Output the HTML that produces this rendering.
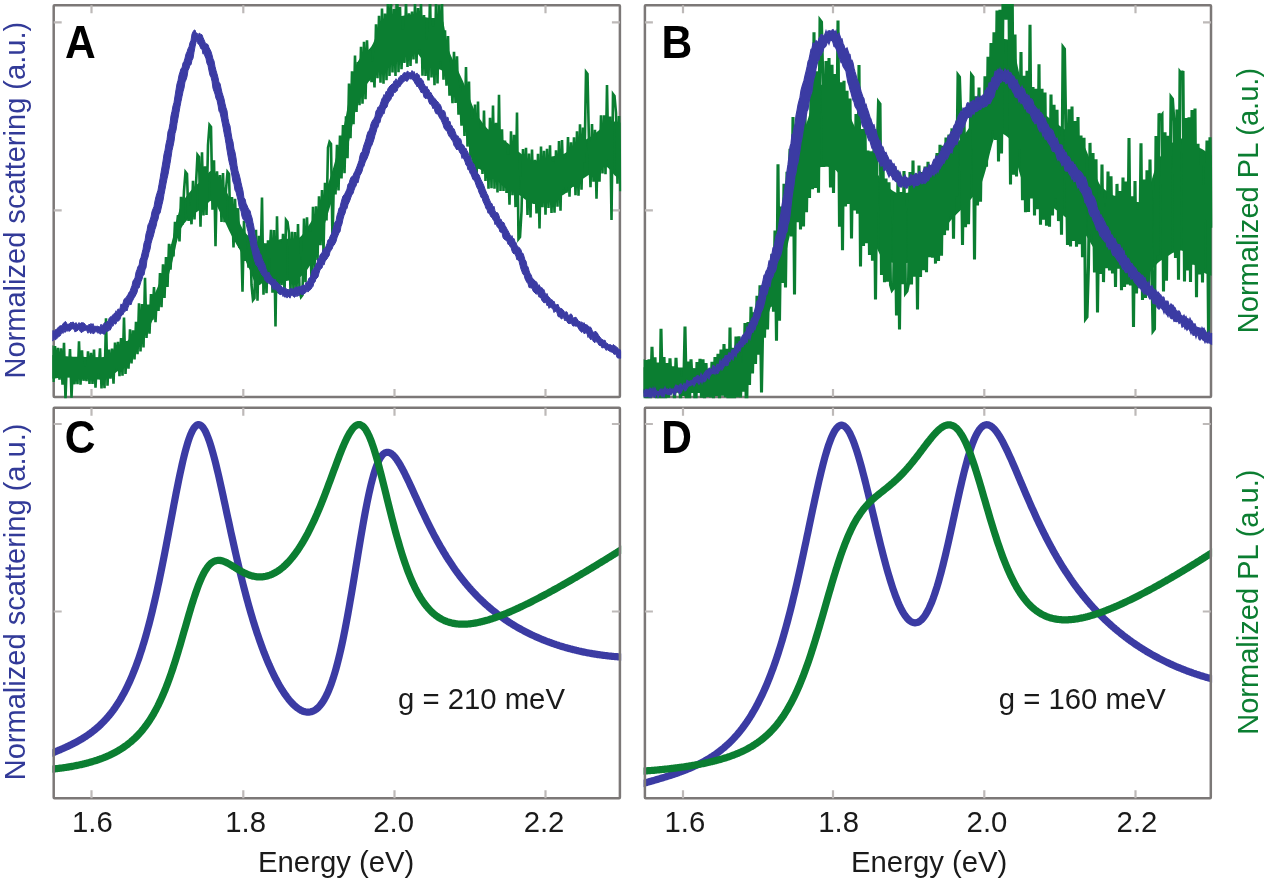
<!DOCTYPE html>
<html><head><meta charset="utf-8"><title>Figure</title>
<style>
html,body{margin:0;padding:0;background:#fff;}
svg{display:block;filter:blur(0.4px);}
text{font-family:"Liberation Sans", sans-serif;}
</style></head>
<body>
<svg width="1265" height="879" viewBox="0 0 1265 879">
<rect x="0" y="0" width="1265" height="879" fill="#fff"/>
<defs><clipPath id="ca"><rect x="52.4" y="3.9" width="568.8" height="394.4"/></clipPath><clipPath id="cb"><rect x="643.6" y="3.9" width="568.7" height="394.4"/></clipPath><clipPath id="cc"><rect x="52.4" y="406.4" width="568.8" height="393.2"/></clipPath><clipPath id="cd"><rect x="643.6" y="406.4" width="568.5" height="393.2"/></clipPath></defs>
<g clip-path="url(#cc)" fill="none" stroke-linecap="round" stroke-linejoin="round">
<path d="M50.0 753.9 L51.0 753.5 L52.0 753.1 L53.0 752.7 L54.0 752.3 L55.0 751.9 L56.0 751.5 L57.0 751.0 L58.0 750.6 L59.0 750.2 L60.0 749.8 L61.0 749.4 L62.0 748.9 L63.0 748.5 L64.0 748.0 L65.0 747.6 L66.0 747.1 L67.0 746.7 L68.0 746.2 L69.0 745.7 L70.0 745.2 L71.0 744.8 L72.0 744.3 L73.0 743.8 L74.0 743.2 L75.0 742.7 L76.0 742.2 L77.0 741.7 L78.0 741.1 L79.0 740.5 L80.0 740.0 L81.0 739.4 L82.0 738.8 L83.0 738.2 L84.0 737.5 L85.0 736.9 L86.0 736.3 L87.0 735.6 L88.0 734.9 L89.0 734.2 L90.0 733.5 L91.0 732.7 L92.0 732.0 L93.0 731.2 L94.0 730.4 L95.0 729.6 L96.0 728.8 L97.0 727.9 L98.0 727.1 L99.0 726.2 L100.0 725.2 L101.0 724.3 L102.0 723.3 L103.0 722.3 L104.0 721.3 L105.0 720.2 L106.0 719.1 L107.0 718.0 L108.0 716.8 L109.0 715.7 L110.0 714.4 L111.0 713.2 L112.0 711.9 L113.0 710.6 L114.0 709.2 L115.0 707.8 L116.0 706.3 L117.0 704.8 L118.0 703.3 L119.0 701.7 L120.0 700.1 L121.0 698.4 L122.0 696.6 L123.0 694.8 L124.0 693.0 L125.0 691.1 L126.0 689.1 L127.0 687.1 L128.0 685.0 L129.0 682.9 L130.0 680.7 L131.0 678.4 L132.0 676.1 L133.0 673.7 L134.0 671.2 L135.0 668.7 L136.0 666.0 L137.0 663.3 L138.0 660.5 L139.0 657.7 L140.0 654.7 L141.0 651.7 L142.0 648.6 L143.0 645.3 L144.0 642.1 L145.0 638.7 L146.0 635.2 L147.0 631.6 L148.0 627.9 L149.0 624.2 L150.0 620.3 L151.0 616.4 L152.0 612.3 L153.0 608.2 L154.0 603.9 L155.0 599.6 L156.0 595.2 L157.0 590.7 L158.0 586.1 L159.0 581.4 L160.0 576.6 L161.0 571.8 L162.0 566.8 L163.0 561.8 L164.0 556.8 L165.0 551.6 L166.0 546.5 L167.0 541.2 L168.0 536.0 L169.0 530.7 L170.0 525.4 L171.0 520.1 L172.0 514.8 L173.0 509.5 L174.0 504.2 L175.0 499.0 L176.0 493.8 L177.0 488.7 L178.0 483.7 L179.0 478.8 L180.0 474.0 L181.0 469.4 L182.0 464.9 L183.0 460.5 L184.0 456.4 L185.0 452.4 L186.0 448.7 L187.0 445.2 L188.0 441.9 L189.0 438.9 L190.0 436.1 L191.0 433.7 L192.0 431.5 L193.0 429.6 L194.0 428.0 L195.0 426.7 L196.0 425.7 L197.0 425.0 L198.0 424.7 L199.0 424.6 L200.0 424.9 L201.0 425.5 L202.0 426.4 L203.0 427.5 L204.0 429.0 L205.0 430.7 L206.0 432.7 L207.0 435.0 L208.0 437.5 L209.0 440.2 L210.0 443.2 L211.0 446.3 L212.0 449.7 L213.0 453.2 L214.0 456.9 L215.0 460.7 L216.0 464.7 L217.0 468.8 L218.0 473.0 L219.0 477.3 L220.0 481.7 L221.0 486.2 L222.0 490.7 L223.0 495.3 L224.0 499.9 L225.0 504.6 L226.0 509.2 L227.0 513.9 L228.0 518.5 L229.0 523.1 L230.0 527.8 L231.0 532.4 L232.0 536.9 L233.0 541.4 L234.0 545.9 L235.0 550.4 L236.0 554.8 L237.0 559.1 L238.0 563.4 L239.0 567.6 L240.0 571.8 L241.0 575.9 L242.0 580.0 L243.0 584.0 L244.0 587.9 L245.0 591.7 L246.0 595.5 L247.0 599.2 L248.0 602.9 L249.0 606.5 L250.0 610.0 L251.0 613.5 L252.0 616.8 L253.0 620.2 L254.0 623.4 L255.0 626.6 L256.0 629.7 L257.0 632.8 L258.0 635.7 L259.0 638.7 L260.0 641.5 L261.0 644.3 L262.0 647.1 L263.0 649.7 L264.0 652.4 L265.0 654.9 L266.0 657.4 L267.0 659.9 L268.0 662.2 L269.0 664.6 L270.0 666.8 L271.0 669.0 L272.0 671.2 L273.0 673.3 L274.0 675.3 L275.0 677.3 L276.0 679.3 L277.0 681.1 L278.0 683.0 L279.0 684.8 L280.0 686.5 L281.0 688.2 L282.0 689.8 L283.0 691.3 L284.0 692.9 L285.0 694.3 L286.0 695.7 L287.0 697.1 L288.0 698.4 L289.0 699.7 L290.0 700.9 L291.0 702.0 L292.0 703.1 L293.0 704.1 L294.0 705.1 L295.0 706.0 L296.0 706.9 L297.0 707.7 L298.0 708.4 L299.0 709.1 L300.0 709.7 L301.0 710.3 L302.0 710.7 L303.0 711.2 L304.0 711.5 L305.0 711.8 L306.0 712.0 L307.0 712.1 L308.0 712.2 L309.0 712.1 L310.0 712.0 L311.0 711.8 L312.0 711.5 L313.0 711.1 L314.0 710.6 L315.0 710.1 L316.0 709.4 L317.0 708.6 L318.0 707.7 L319.0 706.7 L320.0 705.6 L321.0 704.3 L322.0 703.0 L323.0 701.5 L324.0 699.9 L325.0 698.1 L326.0 696.2 L327.0 694.2 L328.0 692.0 L329.0 689.6 L330.0 687.1 L331.0 684.5 L332.0 681.6 L333.0 678.7 L334.0 675.5 L335.0 672.2 L336.0 668.7 L337.0 665.0 L338.0 661.2 L339.0 657.2 L340.0 653.0 L341.0 648.6 L342.0 644.1 L343.0 639.4 L344.0 634.5 L345.0 629.5 L346.0 624.3 L347.0 619.0 L348.0 613.5 L349.0 607.9 L350.0 602.2 L351.0 596.4 L352.0 590.6 L353.0 584.6 L354.0 578.6 L355.0 572.5 L356.0 566.4 L357.0 560.3 L358.0 554.2 L359.0 548.1 L360.0 542.1 L361.0 536.2 L362.0 530.4 L363.0 524.6 L364.0 519.0 L365.0 513.5 L366.0 508.3 L367.0 503.1 L368.0 498.2 L369.0 493.5 L370.0 489.1 L371.0 484.8 L372.0 480.8 L373.0 477.1 L374.0 473.6 L375.0 470.4 L376.0 467.5 L377.0 464.8 L378.0 462.4 L379.0 460.3 L380.0 458.4 L381.0 456.8 L382.0 455.4 L383.0 454.3 L384.0 453.5 L385.0 452.9 L386.0 452.5 L387.0 452.3 L388.0 452.3 L389.0 452.5 L390.0 452.9 L391.0 453.4 L392.0 454.2 L393.0 455.0 L394.0 456.1 L395.0 457.2 L396.0 458.5 L397.0 459.9 L398.0 461.4 L399.0 463.0 L400.0 464.6 L401.0 466.4 L402.0 468.2 L403.0 470.1 L404.0 472.0 L405.0 474.0 L406.0 476.1 L407.0 478.1 L408.0 480.2 L409.0 482.3 L410.0 484.5 L411.0 486.6 L412.0 488.8 L413.0 491.0 L414.0 493.2 L415.0 495.4 L416.0 497.6 L417.0 499.8 L418.0 502.0 L419.0 504.1 L420.0 506.3 L421.0 508.5 L422.0 510.6 L423.0 512.7 L424.0 514.8 L425.0 516.9 L426.0 519.0 L427.0 521.1 L428.0 523.1 L429.0 525.1 L430.0 527.1 L431.0 529.1 L432.0 531.0 L433.0 533.0 L434.0 534.9 L435.0 536.7 L436.0 538.6 L437.0 540.4 L438.0 542.2 L439.0 544.0 L440.0 545.8 L441.0 547.5 L442.0 549.2 L443.0 550.9 L444.0 552.6 L445.0 554.2 L446.0 555.9 L447.0 557.5 L448.0 559.0 L449.0 560.6 L450.0 562.1 L451.0 563.6 L452.0 565.1 L453.0 566.6 L454.0 568.0 L455.0 569.5 L456.0 570.9 L457.0 572.2 L458.0 573.6 L459.0 574.9 L460.0 576.3 L461.0 577.6 L462.0 578.8 L463.0 580.1 L464.0 581.3 L465.0 582.6 L466.0 583.8 L467.0 585.0 L468.0 586.1 L469.0 587.3 L470.0 588.4 L471.0 589.6 L472.0 590.7 L473.0 591.8 L474.0 592.8 L475.0 593.9 L476.0 594.9 L477.0 596.0 L478.0 597.0 L479.0 598.0 L480.0 599.0 L481.0 599.9 L482.0 600.9 L483.0 601.8 L484.0 602.7 L485.0 603.7 L486.0 604.6 L487.0 605.5 L488.0 606.3 L489.0 607.2 L490.0 608.1 L491.0 608.9 L492.0 609.7 L493.0 610.5 L494.0 611.3 L495.0 612.1 L496.0 612.9 L497.0 613.7 L498.0 614.5 L499.0 615.2 L500.0 615.9 L501.0 616.7 L502.0 617.4 L503.0 618.1 L504.0 618.8 L505.0 619.5 L506.0 620.2 L507.0 620.8 L508.0 621.5 L509.0 622.2 L510.0 622.8 L511.0 623.4 L512.0 624.1 L513.0 624.7 L514.0 625.3 L515.0 625.9 L516.0 626.5 L517.0 627.1 L518.0 627.7 L519.0 628.2 L520.0 628.8 L521.0 629.3 L522.0 629.9 L523.0 630.4 L524.0 631.0 L525.0 631.5 L526.0 632.0 L527.0 632.5 L528.0 633.0 L529.0 633.5 L530.0 634.0 L531.0 634.5 L532.0 635.0 L533.0 635.4 L534.0 635.9 L535.0 636.4 L536.0 636.8 L537.0 637.2 L538.0 637.7 L539.0 638.1 L540.0 638.5 L541.0 639.0 L542.0 639.4 L543.0 639.8 L544.0 640.2 L545.0 640.6 L546.0 641.0 L547.0 641.4 L548.0 641.7 L549.0 642.1 L550.0 642.5 L551.0 642.8 L552.0 643.2 L553.0 643.5 L554.0 643.9 L555.0 644.2 L556.0 644.6 L557.0 644.9 L558.0 645.2 L559.0 645.6 L560.0 645.9 L561.0 646.2 L562.0 646.5 L563.0 646.8 L564.0 647.1 L565.0 647.4 L566.0 647.7 L567.0 647.9 L568.0 648.2 L569.0 648.5 L570.0 648.8 L571.0 649.0 L572.0 649.3 L573.0 649.6 L574.0 649.8 L575.0 650.0 L576.0 650.3 L577.0 650.5 L578.0 650.8 L579.0 651.0 L580.0 651.2 L581.0 651.4 L582.0 651.7 L583.0 651.9 L584.0 652.1 L585.0 652.3 L586.0 652.5 L587.0 652.7 L588.0 652.9 L589.0 653.0 L590.0 653.2 L591.0 653.4 L592.0 653.6 L593.0 653.8 L594.0 653.9 L595.0 654.1 L596.0 654.2 L597.0 654.4 L598.0 654.6 L599.0 654.7 L600.0 654.8 L601.0 655.0 L602.0 655.1 L603.0 655.3 L604.0 655.4 L605.0 655.5 L606.0 655.6 L607.0 655.7 L608.0 655.9 L609.0 656.0 L610.0 656.1 L611.0 656.2 L612.0 656.3 L613.0 656.4 L614.0 656.5 L615.0 656.6 L616.0 656.6 L617.0 656.7 L618.0 656.8 L619.0 656.9 L620.0 656.9 L621.0 657.0 L622.0 657.1" stroke="#3b3ba3" stroke-width="7.2"/>
<path d="M50.0 769.3 L51.0 769.2 L52.0 769.1 L53.0 769.0 L54.0 768.9 L55.0 768.8 L56.0 768.7 L57.0 768.6 L58.0 768.5 L59.0 768.3 L60.0 768.2 L61.0 768.1 L62.0 768.0 L63.0 767.8 L64.0 767.7 L65.0 767.5 L66.0 767.4 L67.0 767.2 L68.0 767.1 L69.0 766.9 L70.0 766.7 L71.0 766.6 L72.0 766.4 L73.0 766.2 L74.0 766.0 L75.0 765.8 L76.0 765.6 L77.0 765.4 L78.0 765.2 L79.0 765.0 L80.0 764.8 L81.0 764.6 L82.0 764.4 L83.0 764.1 L84.0 763.9 L85.0 763.6 L86.0 763.4 L87.0 763.1 L88.0 762.9 L89.0 762.6 L90.0 762.3 L91.0 762.0 L92.0 761.7 L93.0 761.4 L94.0 761.1 L95.0 760.8 L96.0 760.5 L97.0 760.2 L98.0 759.8 L99.0 759.5 L100.0 759.1 L101.0 758.7 L102.0 758.4 L103.0 758.0 L104.0 757.6 L105.0 757.2 L106.0 756.8 L107.0 756.3 L108.0 755.9 L109.0 755.5 L110.0 755.0 L111.0 754.5 L112.0 754.0 L113.0 753.5 L114.0 753.0 L115.0 752.5 L116.0 752.0 L117.0 751.4 L118.0 750.8 L119.0 750.2 L120.0 749.6 L121.0 749.0 L122.0 748.4 L123.0 747.7 L124.0 747.0 L125.0 746.3 L126.0 745.6 L127.0 744.9 L128.0 744.1 L129.0 743.3 L130.0 742.5 L131.0 741.7 L132.0 740.8 L133.0 739.9 L134.0 739.0 L135.0 738.1 L136.0 737.1 L137.0 736.1 L138.0 735.1 L139.0 734.0 L140.0 732.9 L141.0 731.8 L142.0 730.6 L143.0 729.4 L144.0 728.1 L145.0 726.8 L146.0 725.5 L147.0 724.1 L148.0 722.7 L149.0 721.2 L150.0 719.7 L151.0 718.1 L152.0 716.5 L153.0 714.8 L154.0 713.1 L155.0 711.3 L156.0 709.5 L157.0 707.5 L158.0 705.6 L159.0 703.5 L160.0 701.4 L161.0 699.3 L162.0 697.1 L163.0 694.8 L164.0 692.4 L165.0 690.0 L166.0 687.5 L167.0 684.9 L168.0 682.2 L169.0 679.5 L170.0 676.7 L171.0 673.9 L172.0 671.0 L173.0 668.0 L174.0 664.9 L175.0 661.8 L176.0 658.6 L177.0 655.4 L178.0 652.1 L179.0 648.8 L180.0 645.4 L181.0 642.0 L182.0 638.6 L183.0 635.1 L184.0 631.6 L185.0 628.2 L186.0 624.7 L187.0 621.2 L188.0 617.8 L189.0 614.3 L190.0 611.0 L191.0 607.6 L192.0 604.3 L193.0 601.1 L194.0 598.0 L195.0 595.0 L196.0 592.0 L197.0 589.2 L198.0 586.4 L199.0 583.8 L200.0 581.4 L201.0 579.0 L202.0 576.8 L203.0 574.7 L204.0 572.8 L205.0 571.0 L206.0 569.4 L207.0 567.9 L208.0 566.5 L209.0 565.3 L210.0 564.3 L211.0 563.3 L212.0 562.6 L213.0 561.9 L214.0 561.4 L215.0 561.0 L216.0 560.7 L217.0 560.5 L218.0 560.4 L219.0 560.4 L220.0 560.4 L221.0 560.6 L222.0 560.8 L223.0 561.1 L224.0 561.5 L225.0 561.9 L226.0 562.3 L227.0 562.8 L228.0 563.4 L229.0 563.9 L230.0 564.5 L231.0 565.1 L232.0 565.7 L233.0 566.3 L234.0 566.9 L235.0 567.6 L236.0 568.2 L237.0 568.8 L238.0 569.4 L239.0 570.0 L240.0 570.6 L241.0 571.2 L242.0 571.7 L243.0 572.2 L244.0 572.8 L245.0 573.2 L246.0 573.7 L247.0 574.1 L248.0 574.5 L249.0 574.9 L250.0 575.3 L251.0 575.6 L252.0 575.9 L253.0 576.1 L254.0 576.3 L255.0 576.5 L256.0 576.7 L257.0 576.8 L258.0 576.9 L259.0 576.9 L260.0 576.9 L261.0 576.9 L262.0 576.8 L263.0 576.8 L264.0 576.6 L265.0 576.5 L266.0 576.3 L267.0 576.0 L268.0 575.7 L269.0 575.4 L270.0 575.1 L271.0 574.7 L272.0 574.3 L273.0 573.8 L274.0 573.3 L275.0 572.8 L276.0 572.2 L277.0 571.6 L278.0 571.0 L279.0 570.3 L280.0 569.6 L281.0 568.8 L282.0 568.0 L283.0 567.2 L284.0 566.3 L285.0 565.4 L286.0 564.4 L287.0 563.4 L288.0 562.4 L289.0 561.3 L290.0 560.2 L291.0 559.0 L292.0 557.8 L293.0 556.6 L294.0 555.3 L295.0 554.0 L296.0 552.6 L297.0 551.2 L298.0 549.8 L299.0 548.3 L300.0 546.7 L301.0 545.1 L302.0 543.5 L303.0 541.9 L304.0 540.1 L305.0 538.4 L306.0 536.6 L307.0 534.7 L308.0 532.9 L309.0 530.9 L310.0 528.9 L311.0 526.9 L312.0 524.8 L313.0 522.7 L314.0 520.6 L315.0 518.4 L316.0 516.1 L317.0 513.9 L318.0 511.5 L319.0 509.2 L320.0 506.8 L321.0 504.3 L322.0 501.8 L323.0 499.3 L324.0 496.8 L325.0 494.2 L326.0 491.6 L327.0 489.0 L328.0 486.3 L329.0 483.6 L330.0 480.9 L331.0 478.2 L332.0 475.5 L333.0 472.8 L334.0 470.1 L335.0 467.4 L336.0 464.7 L337.0 462.0 L338.0 459.4 L339.0 456.7 L340.0 454.2 L341.0 451.6 L342.0 449.2 L343.0 446.7 L344.0 444.4 L345.0 442.1 L346.0 440.0 L347.0 437.9 L348.0 436.0 L349.0 434.1 L350.0 432.4 L351.0 430.9 L352.0 429.4 L353.0 428.2 L354.0 427.1 L355.0 426.2 L356.0 425.5 L357.0 425.0 L358.0 424.7 L359.0 424.6 L360.0 424.7 L361.0 425.1 L362.0 425.6 L363.0 426.4 L364.0 427.4 L365.0 428.6 L366.0 430.1 L367.0 431.8 L368.0 433.7 L369.0 435.8 L370.0 438.1 L371.0 440.6 L372.0 443.3 L373.0 446.2 L374.0 449.2 L375.0 452.4 L376.0 455.8 L377.0 459.2 L378.0 462.8 L379.0 466.5 L380.0 470.3 L381.0 474.2 L382.0 478.1 L383.0 482.1 L384.0 486.1 L385.0 490.1 L386.0 494.2 L387.0 498.3 L388.0 502.3 L389.0 506.4 L390.0 510.4 L391.0 514.4 L392.0 518.3 L393.0 522.2 L394.0 526.0 L395.0 529.8 L396.0 533.5 L397.0 537.1 L398.0 540.6 L399.0 544.1 L400.0 547.5 L401.0 550.8 L402.0 554.0 L403.0 557.1 L404.0 560.1 L405.0 563.1 L406.0 565.9 L407.0 568.7 L408.0 571.4 L409.0 574.0 L410.0 576.5 L411.0 578.9 L412.0 581.2 L413.0 583.4 L414.0 585.6 L415.0 587.7 L416.0 589.7 L417.0 591.6 L418.0 593.4 L419.0 595.2 L420.0 596.9 L421.0 598.5 L422.0 600.0 L423.0 601.5 L424.0 602.9 L425.0 604.3 L426.0 605.6 L427.0 606.8 L428.0 608.0 L429.0 609.1 L430.0 610.2 L431.0 611.2 L432.0 612.2 L433.0 613.1 L434.0 614.0 L435.0 614.8 L436.0 615.6 L437.0 616.3 L438.0 617.0 L439.0 617.7 L440.0 618.3 L441.0 618.8 L442.0 619.4 L443.0 619.9 L444.0 620.4 L445.0 620.8 L446.0 621.2 L447.0 621.6 L448.0 621.9 L449.0 622.2 L450.0 622.5 L451.0 622.8 L452.0 623.0 L453.0 623.3 L454.0 623.4 L455.0 623.6 L456.0 623.8 L457.0 623.9 L458.0 624.0 L459.0 624.1 L460.0 624.1 L461.0 624.2 L462.0 624.2 L463.0 624.2 L464.0 624.2 L465.0 624.2 L466.0 624.1 L467.0 624.1 L468.0 624.0 L469.0 623.9 L470.0 623.8 L471.0 623.7 L472.0 623.5 L473.0 623.4 L474.0 623.2 L475.0 623.1 L476.0 622.9 L477.0 622.7 L478.0 622.5 L479.0 622.3 L480.0 622.1 L481.0 621.8 L482.0 621.6 L483.0 621.3 L484.0 621.1 L485.0 620.8 L486.0 620.5 L487.0 620.2 L488.0 620.0 L489.0 619.7 L490.0 619.3 L491.0 619.0 L492.0 618.7 L493.0 618.4 L494.0 618.0 L495.0 617.7 L496.0 617.3 L497.0 617.0 L498.0 616.6 L499.0 616.2 L500.0 615.9 L501.0 615.5 L502.0 615.1 L503.0 614.7 L504.0 614.3 L505.0 613.9 L506.0 613.5 L507.0 613.1 L508.0 612.7 L509.0 612.2 L510.0 611.8 L511.0 611.4 L512.0 610.9 L513.0 610.5 L514.0 610.0 L515.0 609.6 L516.0 609.1 L517.0 608.7 L518.0 608.2 L519.0 607.8 L520.0 607.3 L521.0 606.8 L522.0 606.4 L523.0 605.9 L524.0 605.4 L525.0 604.9 L526.0 604.4 L527.0 603.9 L528.0 603.5 L529.0 603.0 L530.0 602.5 L531.0 602.0 L532.0 601.5 L533.0 600.9 L534.0 600.4 L535.0 599.9 L536.0 599.4 L537.0 598.9 L538.0 598.4 L539.0 597.9 L540.0 597.3 L541.0 596.8 L542.0 596.3 L543.0 595.8 L544.0 595.2 L545.0 594.7 L546.0 594.1 L547.0 593.6 L548.0 593.1 L549.0 592.5 L550.0 592.0 L551.0 591.4 L552.0 590.9 L553.0 590.3 L554.0 589.8 L555.0 589.2 L556.0 588.7 L557.0 588.1 L558.0 587.6 L559.0 587.0 L560.0 586.4 L561.0 585.9 L562.0 585.3 L563.0 584.8 L564.0 584.2 L565.0 583.6 L566.0 583.0 L567.0 582.5 L568.0 581.9 L569.0 581.3 L570.0 580.8 L571.0 580.2 L572.0 579.6 L573.0 579.0 L574.0 578.4 L575.0 577.9 L576.0 577.3 L577.0 576.7 L578.0 576.1 L579.0 575.5 L580.0 574.9 L581.0 574.3 L582.0 573.7 L583.0 573.1 L584.0 572.6 L585.0 572.0 L586.0 571.4 L587.0 570.8 L588.0 570.2 L589.0 569.6 L590.0 569.0 L591.0 568.4 L592.0 567.8 L593.0 567.2 L594.0 566.6 L595.0 566.0 L596.0 565.4 L597.0 564.8 L598.0 564.1 L599.0 563.5 L600.0 562.9 L601.0 562.3 L602.0 561.7 L603.0 561.1 L604.0 560.5 L605.0 559.9 L606.0 559.3 L607.0 558.6 L608.0 558.0 L609.0 557.4 L610.0 556.8 L611.0 556.2 L612.0 555.6 L613.0 554.9 L614.0 554.3 L615.0 553.7 L616.0 553.1 L617.0 552.4 L618.0 551.8 L619.0 551.2 L620.0 550.6 L621.0 549.9 L622.0 549.3" stroke="#0b7e31" stroke-width="7.2"/>
</g>
<g clip-path="url(#cd)" fill="none" stroke-linecap="round" stroke-linejoin="round">
<path d="M641.0 784.1 L642.0 783.8 L643.0 783.5 L644.0 783.2 L645.0 782.9 L646.0 782.6 L647.0 782.4 L648.0 782.1 L649.0 781.8 L650.0 781.5 L651.0 781.2 L652.0 780.9 L653.0 780.7 L654.0 780.4 L655.0 780.1 L656.0 779.8 L657.0 779.5 L658.0 779.2 L659.0 778.9 L660.0 778.6 L661.0 778.3 L662.0 778.0 L663.0 777.7 L664.0 777.4 L665.0 777.1 L666.0 776.8 L667.0 776.5 L668.0 776.1 L669.0 775.8 L670.0 775.5 L671.0 775.2 L672.0 774.9 L673.0 774.5 L674.0 774.2 L675.0 773.8 L676.0 773.5 L677.0 773.2 L678.0 772.8 L679.0 772.4 L680.0 772.1 L681.0 771.7 L682.0 771.3 L683.0 771.0 L684.0 770.6 L685.0 770.2 L686.0 769.8 L687.0 769.4 L688.0 769.0 L689.0 768.6 L690.0 768.2 L691.0 767.7 L692.0 767.3 L693.0 766.8 L694.0 766.4 L695.0 765.9 L696.0 765.5 L697.0 765.0 L698.0 764.5 L699.0 764.0 L700.0 763.5 L701.0 763.0 L702.0 762.5 L703.0 761.9 L704.0 761.4 L705.0 760.8 L706.0 760.3 L707.0 759.7 L708.0 759.1 L709.0 758.5 L710.0 757.9 L711.0 757.2 L712.0 756.6 L713.0 756.0 L714.0 755.3 L715.0 754.6 L716.0 753.9 L717.0 753.2 L718.0 752.4 L719.0 751.7 L720.0 750.9 L721.0 750.1 L722.0 749.3 L723.0 748.5 L724.0 747.7 L725.0 746.8 L726.0 745.9 L727.0 745.0 L728.0 744.1 L729.0 743.2 L730.0 742.2 L731.0 741.2 L732.0 740.2 L733.0 739.2 L734.0 738.1 L735.0 737.0 L736.0 735.9 L737.0 734.8 L738.0 733.6 L739.0 732.4 L740.0 731.2 L741.0 729.9 L742.0 728.7 L743.0 727.3 L744.0 726.0 L745.0 724.6 L746.0 723.2 L747.0 721.7 L748.0 720.3 L749.0 718.7 L750.0 717.2 L751.0 715.6 L752.0 713.9 L753.0 712.2 L754.0 710.5 L755.0 708.7 L756.0 706.9 L757.0 705.1 L758.0 703.2 L759.0 701.2 L760.0 699.2 L761.0 697.2 L762.0 695.1 L763.0 693.0 L764.0 690.8 L765.0 688.5 L766.0 686.2 L767.0 683.8 L768.0 681.4 L769.0 678.9 L770.0 676.4 L771.0 673.8 L772.0 671.1 L773.0 668.4 L774.0 665.6 L775.0 662.8 L776.0 659.9 L777.0 656.9 L778.0 653.8 L779.0 650.7 L780.0 647.5 L781.0 644.3 L782.0 640.9 L783.0 637.5 L784.0 634.1 L785.0 630.5 L786.0 626.9 L787.0 623.2 L788.0 619.5 L789.0 615.7 L790.0 611.8 L791.0 607.8 L792.0 603.8 L793.0 599.7 L794.0 595.5 L795.0 591.3 L796.0 587.0 L797.0 582.7 L798.0 578.2 L799.0 573.8 L800.0 569.3 L801.0 564.7 L802.0 560.1 L803.0 555.5 L804.0 550.8 L805.0 546.1 L806.0 541.4 L807.0 536.6 L808.0 531.9 L809.0 527.1 L810.0 522.3 L811.0 517.6 L812.0 512.8 L813.0 508.1 L814.0 503.4 L815.0 498.8 L816.0 494.2 L817.0 489.7 L818.0 485.2 L819.0 480.8 L820.0 476.6 L821.0 472.4 L822.0 468.3 L823.0 464.4 L824.0 460.6 L825.0 456.9 L826.0 453.4 L827.0 450.1 L828.0 446.9 L829.0 443.9 L830.0 441.2 L831.0 438.6 L832.0 436.2 L833.0 434.1 L834.0 432.1 L835.0 430.4 L836.0 429.0 L837.0 427.7 L838.0 426.7 L839.0 426.0 L840.0 425.5 L841.0 425.2 L842.0 425.2 L843.0 425.5 L844.0 425.9 L845.0 426.7 L846.0 427.6 L847.0 428.8 L848.0 430.2 L849.0 431.8 L850.0 433.6 L851.0 435.7 L852.0 437.9 L853.0 440.3 L854.0 442.9 L855.0 445.7 L856.0 448.6 L857.0 451.7 L858.0 454.9 L859.0 458.3 L860.0 461.7 L861.0 465.3 L862.0 469.0 L863.0 472.8 L864.0 476.6 L865.0 480.5 L866.0 484.5 L867.0 488.6 L868.0 492.7 L869.0 496.8 L870.0 500.9 L871.0 505.1 L872.0 509.3 L873.0 513.5 L874.0 517.7 L875.0 521.9 L876.0 526.1 L877.0 530.2 L878.0 534.3 L879.0 538.4 L880.0 542.5 L881.0 546.5 L882.0 550.4 L883.0 554.3 L884.0 558.1 L885.0 561.9 L886.0 565.6 L887.0 569.2 L888.0 572.7 L889.0 576.1 L890.0 579.4 L891.0 582.6 L892.0 585.8 L893.0 588.8 L894.0 591.7 L895.0 594.5 L896.0 597.2 L897.0 599.7 L898.0 602.2 L899.0 604.5 L900.0 606.6 L901.0 608.7 L902.0 610.6 L903.0 612.3 L904.0 614.0 L905.0 615.5 L906.0 616.8 L907.0 618.1 L908.0 619.1 L909.0 620.1 L910.0 620.9 L911.0 621.6 L912.0 622.1 L913.0 622.5 L914.0 622.7 L915.0 622.8 L916.0 622.7 L917.0 622.5 L918.0 622.2 L919.0 621.7 L920.0 621.0 L921.0 620.2 L922.0 619.3 L923.0 618.2 L924.0 616.9 L925.0 615.5 L926.0 613.9 L927.0 612.2 L928.0 610.3 L929.0 608.3 L930.0 606.1 L931.0 603.8 L932.0 601.3 L933.0 598.7 L934.0 595.9 L935.0 593.0 L936.0 589.9 L937.0 586.8 L938.0 583.4 L939.0 580.0 L940.0 576.4 L941.0 572.7 L942.0 568.9 L943.0 565.0 L944.0 560.9 L945.0 556.8 L946.0 552.6 L947.0 548.3 L948.0 544.0 L949.0 539.5 L950.0 535.0 L951.0 530.5 L952.0 525.9 L953.0 521.3 L954.0 516.7 L955.0 512.1 L956.0 507.5 L957.0 502.9 L958.0 498.4 L959.0 493.9 L960.0 489.4 L961.0 485.1 L962.0 480.8 L963.0 476.6 L964.0 472.5 L965.0 468.6 L966.0 464.8 L967.0 461.1 L968.0 457.5 L969.0 454.2 L970.0 450.9 L971.0 447.9 L972.0 445.0 L973.0 442.3 L974.0 439.8 L975.0 437.5 L976.0 435.4 L977.0 433.5 L978.0 431.7 L979.0 430.2 L980.0 428.8 L981.0 427.7 L982.0 426.7 L983.0 426.0 L984.0 425.4 L985.0 425.0 L986.0 424.8 L987.0 424.7 L988.0 424.9 L989.0 425.1 L990.0 425.6 L991.0 426.2 L992.0 426.9 L993.0 427.7 L994.0 428.7 L995.0 429.8 L996.0 431.1 L997.0 432.4 L998.0 433.8 L999.0 435.4 L1000.0 437.0 L1001.0 438.7 L1002.0 440.5 L1003.0 442.3 L1004.0 444.3 L1005.0 446.3 L1006.0 448.3 L1007.0 450.4 L1008.0 452.5 L1009.0 454.7 L1010.0 456.9 L1011.0 459.1 L1012.0 461.4 L1013.0 463.7 L1014.0 466.0 L1015.0 468.3 L1016.0 470.7 L1017.0 473.0 L1018.0 475.4 L1019.0 477.7 L1020.0 480.1 L1021.0 482.5 L1022.0 484.8 L1023.0 487.2 L1024.0 489.5 L1025.0 491.9 L1026.0 494.2 L1027.0 496.5 L1028.0 498.8 L1029.0 501.1 L1030.0 503.4 L1031.0 505.7 L1032.0 507.9 L1033.0 510.1 L1034.0 512.3 L1035.0 514.5 L1036.0 516.7 L1037.0 518.9 L1038.0 521.0 L1039.0 523.1 L1040.0 525.2 L1041.0 527.3 L1042.0 529.3 L1043.0 531.3 L1044.0 533.4 L1045.0 535.3 L1046.0 537.3 L1047.0 539.2 L1048.0 541.2 L1049.0 543.1 L1050.0 544.9 L1051.0 546.8 L1052.0 548.6 L1053.0 550.4 L1054.0 552.2 L1055.0 554.0 L1056.0 555.7 L1057.0 557.5 L1058.0 559.2 L1059.0 560.9 L1060.0 562.5 L1061.0 564.2 L1062.0 565.8 L1063.0 567.4 L1064.0 569.0 L1065.0 570.5 L1066.0 572.1 L1067.0 573.6 L1068.0 575.1 L1069.0 576.6 L1070.0 578.1 L1071.0 579.5 L1072.0 581.0 L1073.0 582.4 L1074.0 583.8 L1075.0 585.2 L1076.0 586.5 L1077.0 587.9 L1078.0 589.2 L1079.0 590.5 L1080.0 591.8 L1081.0 593.1 L1082.0 594.4 L1083.0 595.6 L1084.0 596.8 L1085.0 598.1 L1086.0 599.3 L1087.0 600.5 L1088.0 601.6 L1089.0 602.8 L1090.0 604.0 L1091.0 605.1 L1092.0 606.2 L1093.0 607.3 L1094.0 608.4 L1095.0 609.5 L1096.0 610.6 L1097.0 611.6 L1098.0 612.7 L1099.0 613.7 L1100.0 614.7 L1101.0 615.7 L1102.0 616.7 L1103.0 617.7 L1104.0 618.7 L1105.0 619.7 L1106.0 620.6 L1107.0 621.5 L1108.0 622.5 L1109.0 623.4 L1110.0 624.3 L1111.0 625.2 L1112.0 626.1 L1113.0 627.0 L1114.0 627.8 L1115.0 628.7 L1116.0 629.5 L1117.0 630.4 L1118.0 631.2 L1119.0 632.0 L1120.0 632.8 L1121.0 633.6 L1122.0 634.4 L1123.0 635.2 L1124.0 636.0 L1125.0 636.8 L1126.0 637.5 L1127.0 638.3 L1128.0 639.0 L1129.0 639.7 L1130.0 640.5 L1131.0 641.2 L1132.0 641.9 L1133.0 642.6 L1134.0 643.3 L1135.0 644.0 L1136.0 644.7 L1137.0 645.3 L1138.0 646.0 L1139.0 646.6 L1140.0 647.3 L1141.0 647.9 L1142.0 648.6 L1143.0 649.2 L1144.0 649.8 L1145.0 650.4 L1146.0 651.0 L1147.0 651.7 L1148.0 652.2 L1149.0 652.8 L1150.0 653.4 L1151.0 654.0 L1152.0 654.6 L1153.0 655.1 L1154.0 655.7 L1155.0 656.2 L1156.0 656.8 L1157.0 657.3 L1158.0 657.8 L1159.0 658.4 L1160.0 658.9 L1161.0 659.4 L1162.0 659.9 L1163.0 660.4 L1164.0 660.9 L1165.0 661.4 L1166.0 661.9 L1167.0 662.4 L1168.0 662.8 L1169.0 663.3 L1170.0 663.8 L1171.0 664.2 L1172.0 664.7 L1173.0 665.1 L1174.0 665.6 L1175.0 666.0 L1176.0 666.5 L1177.0 666.9 L1178.0 667.3 L1179.0 667.7 L1180.0 668.1 L1181.0 668.5 L1182.0 668.9 L1183.0 669.3 L1184.0 669.7 L1185.0 670.1 L1186.0 670.5 L1187.0 670.9 L1188.0 671.3 L1189.0 671.6 L1190.0 672.0 L1191.0 672.3 L1192.0 672.7 L1193.0 673.1 L1194.0 673.4 L1195.0 673.7 L1196.0 674.1 L1197.0 674.4 L1198.0 674.7 L1199.0 675.0 L1200.0 675.4 L1201.0 675.7 L1202.0 676.0 L1203.0 676.3 L1204.0 676.6 L1205.0 676.9 L1206.0 677.2 L1207.0 677.5 L1208.0 677.7 L1209.0 678.0 L1210.0 678.3 L1211.0 678.6 L1212.0 678.8 L1213.0 679.1" stroke="#3b3ba3" stroke-width="7.2"/>
<path d="M641.0 771.2 L642.0 771.2 L643.0 771.1 L644.0 771.0 L645.0 771.0 L646.0 770.9 L647.0 770.8 L648.0 770.7 L649.0 770.7 L650.0 770.6 L651.0 770.5 L652.0 770.4 L653.0 770.3 L654.0 770.3 L655.0 770.2 L656.0 770.1 L657.0 770.0 L658.0 769.9 L659.0 769.8 L660.0 769.7 L661.0 769.6 L662.0 769.5 L663.0 769.4 L664.0 769.3 L665.0 769.2 L666.0 769.1 L667.0 769.0 L668.0 768.9 L669.0 768.8 L670.0 768.7 L671.0 768.6 L672.0 768.4 L673.0 768.3 L674.0 768.2 L675.0 768.1 L676.0 767.9 L677.0 767.8 L678.0 767.7 L679.0 767.6 L680.0 767.4 L681.0 767.3 L682.0 767.1 L683.0 767.0 L684.0 766.9 L685.0 766.7 L686.0 766.6 L687.0 766.4 L688.0 766.3 L689.0 766.1 L690.0 765.9 L691.0 765.8 L692.0 765.6 L693.0 765.4 L694.0 765.3 L695.0 765.1 L696.0 764.9 L697.0 764.7 L698.0 764.5 L699.0 764.4 L700.0 764.2 L701.0 764.0 L702.0 763.8 L703.0 763.6 L704.0 763.4 L705.0 763.2 L706.0 762.9 L707.0 762.7 L708.0 762.5 L709.0 762.3 L710.0 762.0 L711.0 761.8 L712.0 761.6 L713.0 761.3 L714.0 761.1 L715.0 760.8 L716.0 760.6 L717.0 760.3 L718.0 760.0 L719.0 759.8 L720.0 759.5 L721.0 759.2 L722.0 758.9 L723.0 758.6 L724.0 758.3 L725.0 758.0 L726.0 757.7 L727.0 757.4 L728.0 757.0 L729.0 756.7 L730.0 756.4 L731.0 756.0 L732.0 755.6 L733.0 755.3 L734.0 754.9 L735.0 754.5 L736.0 754.1 L737.0 753.7 L738.0 753.3 L739.0 752.9 L740.0 752.4 L741.0 752.0 L742.0 751.5 L743.0 751.1 L744.0 750.6 L745.0 750.1 L746.0 749.6 L747.0 749.1 L748.0 748.5 L749.0 748.0 L750.0 747.4 L751.0 746.9 L752.0 746.3 L753.0 745.7 L754.0 745.0 L755.0 744.4 L756.0 743.7 L757.0 743.1 L758.0 742.4 L759.0 741.6 L760.0 740.9 L761.0 740.2 L762.0 739.4 L763.0 738.6 L764.0 737.7 L765.0 736.9 L766.0 736.0 L767.0 735.1 L768.0 734.2 L769.0 733.2 L770.0 732.3 L771.0 731.2 L772.0 730.2 L773.0 729.1 L774.0 728.0 L775.0 726.9 L776.0 725.7 L777.0 724.5 L778.0 723.2 L779.0 721.9 L780.0 720.6 L781.0 719.2 L782.0 717.8 L783.0 716.4 L784.0 714.9 L785.0 713.3 L786.0 711.7 L787.0 710.1 L788.0 708.4 L789.0 706.6 L790.0 704.8 L791.0 703.0 L792.0 701.1 L793.0 699.1 L794.0 697.1 L795.0 695.1 L796.0 692.9 L797.0 690.7 L798.0 688.5 L799.0 686.2 L800.0 683.8 L801.0 681.4 L802.0 678.9 L803.0 676.4 L804.0 673.7 L805.0 671.1 L806.0 668.3 L807.0 665.5 L808.0 662.7 L809.0 659.8 L810.0 656.8 L811.0 653.8 L812.0 650.7 L813.0 647.6 L814.0 644.4 L815.0 641.2 L816.0 637.9 L817.0 634.6 L818.0 631.3 L819.0 627.9 L820.0 624.5 L821.0 621.1 L822.0 617.7 L823.0 614.2 L824.0 610.7 L825.0 607.2 L826.0 603.7 L827.0 600.3 L828.0 596.8 L829.0 593.3 L830.0 589.9 L831.0 586.5 L832.0 583.1 L833.0 579.7 L834.0 576.4 L835.0 573.2 L836.0 569.9 L837.0 566.8 L838.0 563.7 L839.0 560.6 L840.0 557.6 L841.0 554.7 L842.0 551.9 L843.0 549.1 L844.0 546.4 L845.0 543.8 L846.0 541.3 L847.0 538.8 L848.0 536.4 L849.0 534.1 L850.0 531.9 L851.0 529.8 L852.0 527.7 L853.0 525.7 L854.0 523.8 L855.0 522.0 L856.0 520.2 L857.0 518.5 L858.0 516.9 L859.0 515.4 L860.0 513.9 L861.0 512.5 L862.0 511.1 L863.0 509.8 L864.0 508.5 L865.0 507.3 L866.0 506.2 L867.0 505.1 L868.0 504.0 L869.0 502.9 L870.0 501.9 L871.0 501.0 L872.0 500.0 L873.0 499.1 L874.0 498.2 L875.0 497.4 L876.0 496.5 L877.0 495.7 L878.0 494.9 L879.0 494.1 L880.0 493.3 L881.0 492.5 L882.0 491.7 L883.0 490.9 L884.0 490.1 L885.0 489.3 L886.0 488.5 L887.0 487.7 L888.0 486.9 L889.0 486.1 L890.0 485.2 L891.0 484.4 L892.0 483.5 L893.0 482.7 L894.0 481.8 L895.0 480.9 L896.0 480.0 L897.0 479.0 L898.0 478.1 L899.0 477.1 L900.0 476.1 L901.0 475.1 L902.0 474.1 L903.0 473.1 L904.0 472.0 L905.0 470.9 L906.0 469.8 L907.0 468.7 L908.0 467.6 L909.0 466.4 L910.0 465.2 L911.0 464.0 L912.0 462.8 L913.0 461.6 L914.0 460.3 L915.0 459.0 L916.0 457.8 L917.0 456.5 L918.0 455.2 L919.0 453.9 L920.0 452.5 L921.0 451.2 L922.0 449.9 L923.0 448.6 L924.0 447.2 L925.0 445.9 L926.0 444.6 L927.0 443.3 L928.0 442.0 L929.0 440.7 L930.0 439.5 L931.0 438.2 L932.0 437.0 L933.0 435.8 L934.0 434.7 L935.0 433.6 L936.0 432.5 L937.0 431.5 L938.0 430.5 L939.0 429.6 L940.0 428.8 L941.0 428.0 L942.0 427.3 L943.0 426.7 L944.0 426.1 L945.0 425.7 L946.0 425.3 L947.0 425.1 L948.0 424.9 L949.0 424.9 L950.0 424.9 L951.0 425.1 L952.0 425.4 L953.0 425.8 L954.0 426.3 L955.0 427.0 L956.0 427.8 L957.0 428.7 L958.0 429.8 L959.0 431.0 L960.0 432.4 L961.0 433.9 L962.0 435.5 L963.0 437.2 L964.0 439.1 L965.0 441.1 L966.0 443.3 L967.0 445.5 L968.0 447.9 L969.0 450.4 L970.0 453.0 L971.0 455.7 L972.0 458.6 L973.0 461.5 L974.0 464.5 L975.0 467.5 L976.0 470.7 L977.0 473.9 L978.0 477.1 L979.0 480.4 L980.0 483.8 L981.0 487.1 L982.0 490.5 L983.0 494.0 L984.0 497.4 L985.0 500.8 L986.0 504.3 L987.0 507.7 L988.0 511.1 L989.0 514.5 L990.0 517.9 L991.0 521.2 L992.0 524.5 L993.0 527.7 L994.0 531.0 L995.0 534.1 L996.0 537.2 L997.0 540.3 L998.0 543.3 L999.0 546.2 L1000.0 549.1 L1001.0 551.9 L1002.0 554.7 L1003.0 557.4 L1004.0 560.0 L1005.0 562.5 L1006.0 565.0 L1007.0 567.4 L1008.0 569.8 L1009.0 572.0 L1010.0 574.2 L1011.0 576.4 L1012.0 578.4 L1013.0 580.4 L1014.0 582.4 L1015.0 584.3 L1016.0 586.1 L1017.0 587.8 L1018.0 589.5 L1019.0 591.1 L1020.0 592.7 L1021.0 594.2 L1022.0 595.6 L1023.0 597.0 L1024.0 598.3 L1025.0 599.6 L1026.0 600.9 L1027.0 602.0 L1028.0 603.2 L1029.0 604.2 L1030.0 605.3 L1031.0 606.2 L1032.0 607.2 L1033.0 608.1 L1034.0 608.9 L1035.0 609.7 L1036.0 610.5 L1037.0 611.2 L1038.0 611.9 L1039.0 612.6 L1040.0 613.2 L1041.0 613.8 L1042.0 614.4 L1043.0 614.9 L1044.0 615.4 L1045.0 615.8 L1046.0 616.3 L1047.0 616.7 L1048.0 617.0 L1049.0 617.4 L1050.0 617.7 L1051.0 618.0 L1052.0 618.3 L1053.0 618.5 L1054.0 618.7 L1055.0 618.9 L1056.0 619.1 L1057.0 619.3 L1058.0 619.4 L1059.0 619.5 L1060.0 619.6 L1061.0 619.7 L1062.0 619.8 L1063.0 619.8 L1064.0 619.8 L1065.0 619.9 L1066.0 619.9 L1067.0 619.8 L1068.0 619.8 L1069.0 619.7 L1070.0 619.7 L1071.0 619.6 L1072.0 619.5 L1073.0 619.4 L1074.0 619.3 L1075.0 619.1 L1076.0 619.0 L1077.0 618.9 L1078.0 618.7 L1079.0 618.5 L1080.0 618.3 L1081.0 618.1 L1082.0 617.9 L1083.0 617.7 L1084.0 617.5 L1085.0 617.2 L1086.0 617.0 L1087.0 616.7 L1088.0 616.5 L1089.0 616.2 L1090.0 615.9 L1091.0 615.6 L1092.0 615.3 L1093.0 615.0 L1094.0 614.7 L1095.0 614.4 L1096.0 614.1 L1097.0 613.8 L1098.0 613.4 L1099.0 613.1 L1100.0 612.7 L1101.0 612.4 L1102.0 612.0 L1103.0 611.7 L1104.0 611.3 L1105.0 610.9 L1106.0 610.5 L1107.0 610.1 L1108.0 609.7 L1109.0 609.3 L1110.0 608.9 L1111.0 608.5 L1112.0 608.1 L1113.0 607.7 L1114.0 607.3 L1115.0 606.8 L1116.0 606.4 L1117.0 606.0 L1118.0 605.5 L1119.0 605.1 L1120.0 604.6 L1121.0 604.2 L1122.0 603.7 L1123.0 603.3 L1124.0 602.8 L1125.0 602.3 L1126.0 601.9 L1127.0 601.4 L1128.0 600.9 L1129.0 600.4 L1130.0 600.0 L1131.0 599.5 L1132.0 599.0 L1133.0 598.5 L1134.0 598.0 L1135.0 597.5 L1136.0 597.0 L1137.0 596.5 L1138.0 596.0 L1139.0 595.5 L1140.0 595.0 L1141.0 594.4 L1142.0 593.9 L1143.0 593.4 L1144.0 592.9 L1145.0 592.4 L1146.0 591.8 L1147.0 591.3 L1148.0 590.8 L1149.0 590.2 L1150.0 589.7 L1151.0 589.1 L1152.0 588.6 L1153.0 588.1 L1154.0 587.5 L1155.0 587.0 L1156.0 586.4 L1157.0 585.9 L1158.0 585.3 L1159.0 584.7 L1160.0 584.2 L1161.0 583.6 L1162.0 583.1 L1163.0 582.5 L1164.0 581.9 L1165.0 581.4 L1166.0 580.8 L1167.0 580.2 L1168.0 579.6 L1169.0 579.1 L1170.0 578.5 L1171.0 577.9 L1172.0 577.3 L1173.0 576.7 L1174.0 576.1 L1175.0 575.6 L1176.0 575.0 L1177.0 574.4 L1178.0 573.8 L1179.0 573.2 L1180.0 572.6 L1181.0 572.0 L1182.0 571.4 L1183.0 570.8 L1184.0 570.2 L1185.0 569.6 L1186.0 569.0 L1187.0 568.4 L1188.0 567.8 L1189.0 567.2 L1190.0 566.5 L1191.0 565.9 L1192.0 565.3 L1193.0 564.7 L1194.0 564.1 L1195.0 563.5 L1196.0 562.9 L1197.0 562.2 L1198.0 561.6 L1199.0 561.0 L1200.0 560.4 L1201.0 559.7 L1202.0 559.1 L1203.0 558.5 L1204.0 557.8 L1205.0 557.2 L1206.0 556.6 L1207.0 555.9 L1208.0 555.3 L1209.0 554.7 L1210.0 554.0 L1211.0 553.4 L1212.0 552.8 L1213.0 552.1" stroke="#0b7e31" stroke-width="7.2"/>
</g>
<rect x="53.7" y="407.7" width="566.2" height="390.6" fill="none" stroke="#7c7877" stroke-width="2.5" rx="0.8"/>
<path d="M91.5 407.7 v8 M91.5 798.3 v-8" stroke="#bdb9b8" stroke-width="2.2"/>
<path d="M243.3 407.7 v8 M243.3 798.3 v-8" stroke="#bdb9b8" stroke-width="2.2"/>
<path d="M394.5 407.7 v8 M394.5 798.3 v-8" stroke="#bdb9b8" stroke-width="2.2"/>
<path d="M545.5 407.7 v8 M545.5 798.3 v-8" stroke="#bdb9b8" stroke-width="2.2"/>
<path d="M53.7 424.0 h8 M619.9 424.0 h-8" stroke="#bdb9b8" stroke-width="2.2"/>
<path d="M53.7 611.5 h8 M619.9 611.5 h-8" stroke="#bdb9b8" stroke-width="2.2"/>
<rect x="644.9" y="407.7" width="565.9" height="390.6" fill="none" stroke="#7c7877" stroke-width="2.5" rx="0.8"/>
<path d="M683.0 407.7 v8 M683.0 798.3 v-8" stroke="#bdb9b8" stroke-width="2.2"/>
<path d="M833.0 407.7 v8 M833.0 798.3 v-8" stroke="#bdb9b8" stroke-width="2.2"/>
<path d="M984.3 407.7 v8 M984.3 798.3 v-8" stroke="#bdb9b8" stroke-width="2.2"/>
<path d="M1135.5 407.7 v8 M1135.5 798.3 v-8" stroke="#bdb9b8" stroke-width="2.2"/>
<path d="M644.9 424.0 h8 M1210.8 424.0 h-8" stroke="#bdb9b8" stroke-width="2.2"/>
<path d="M644.9 611.5 h8 M1210.8 611.5 h-8" stroke="#bdb9b8" stroke-width="2.2"/>
<rect x="53.7" y="5.2" width="566.2" height="391.8" fill="none" stroke="#7c7877" stroke-width="2.5" rx="0.8"/>
<path d="M91.5 5.2 v8 M91.5 397.0 v-8" stroke="#bdb9b8" stroke-width="2.2"/>
<path d="M243.3 5.2 v8 M243.3 397.0 v-8" stroke="#bdb9b8" stroke-width="2.2"/>
<path d="M394.5 5.2 v8 M394.5 397.0 v-8" stroke="#bdb9b8" stroke-width="2.2"/>
<path d="M545.5 5.2 v8 M545.5 397.0 v-8" stroke="#bdb9b8" stroke-width="2.2"/>
<path d="M53.7 22.3 h8 M619.9 22.3 h-8" stroke="#bdb9b8" stroke-width="2.2"/>
<path d="M53.7 210.4 h8 M619.9 210.4 h-8" stroke="#bdb9b8" stroke-width="2.2"/>
<rect x="644.9" y="5.2" width="566.1" height="391.8" fill="none" stroke="#7c7877" stroke-width="2.5" rx="0.8"/>
<path d="M683.0 5.2 v8 M683.0 397.0 v-8" stroke="#bdb9b8" stroke-width="2.2"/>
<path d="M833.0 5.2 v8 M833.0 397.0 v-8" stroke="#bdb9b8" stroke-width="2.2"/>
<path d="M984.3 5.2 v8 M984.3 397.0 v-8" stroke="#bdb9b8" stroke-width="2.2"/>
<path d="M1135.5 5.2 v8 M1135.5 397.0 v-8" stroke="#bdb9b8" stroke-width="2.2"/>
<path d="M644.9 22.3 h8 M1211.0 22.3 h-8" stroke="#bdb9b8" stroke-width="2.2"/>
<path d="M644.9 210.4 h8 M1211.0 210.4 h-8" stroke="#bdb9b8" stroke-width="2.2"/>
<g clip-path="url(#ca)" fill="none">
<path d="M52.0 355.0 L53.5 355.2 L55.0 355.3 L56.5 355.5 L58.0 355.6 L59.5 355.7 L61.0 355.9 L62.5 356.0 L64.0 356.1 L65.5 356.2 L67.0 356.3 L68.5 356.4 L70.0 356.5 L71.5 356.6 L73.0 356.7 L74.5 356.7 L76.0 356.7 L77.5 356.8 L79.0 356.8 L80.5 356.8 L82.0 356.8 L83.5 356.8 L85.0 356.9 L86.5 356.9 L88.0 357.0 L89.5 357.0 L91.0 357.1 L92.5 357.1 L94.0 357.2 L95.5 357.2 L97.0 357.3 L98.5 357.3 L100.0 357.3 L101.5 357.3 L103.0 357.1 L104.5 356.8 L106.0 356.3 L107.5 355.6 L109.0 354.8 L110.5 353.9 L112.0 353.0 L113.5 351.9 L115.0 350.8 L116.5 349.7 L118.0 348.5 L119.5 347.4 L121.0 346.3 L122.5 345.2 L124.0 343.9 L125.5 342.6 L127.0 341.2 L128.5 339.7 L130.0 338.1 L131.5 336.4 L133.0 334.7 L134.5 332.8 L136.0 330.8 L137.5 328.5 L139.0 326.0 L140.5 323.4 L142.0 320.6 L143.5 317.7 L145.0 314.6 L146.5 311.5 L148.0 308.4 L149.5 305.2 L151.0 302.0 L152.5 298.8 L154.0 295.5 L155.5 292.1 L157.0 288.6 L158.5 285.0 L160.0 281.2 L161.5 277.2 L163.0 273.0 L164.5 268.6 L166.0 263.7 L167.5 258.3 L169.0 252.6 L170.5 246.9 L172.0 241.1 L173.5 235.0 L175.0 228.3 L176.5 221.5 L178.0 215.1 L179.5 209.6 L181.0 205.5 L182.5 202.4 L184.0 199.8 L185.5 197.4 L187.0 195.4 L188.5 193.5 L190.0 191.7 L191.5 190.0 L193.0 188.3 L194.5 186.7 L196.0 185.3 L197.5 183.9 L199.0 182.6 L200.5 181.3 L202.0 179.9 L203.5 178.6 L205.0 177.0 L206.5 175.2 L208.0 173.3 L209.5 171.7 L211.0 170.7 L212.5 170.5 L214.0 171.4 L215.5 173.1 L217.0 175.3 L218.5 177.9 L220.0 180.4 L221.5 182.8 L223.0 185.2 L224.5 187.8 L226.0 190.5 L227.5 193.4 L229.0 196.4 L230.5 199.4 L232.0 202.5 L233.5 206.0 L235.0 209.9 L236.5 214.1 L238.0 218.3 L239.5 222.3 L241.0 225.8 L242.5 228.6 L244.0 230.7 L245.5 232.7 L247.0 234.4 L248.5 236.0 L250.0 237.4 L251.5 238.6 L253.0 239.9 L254.5 241.0 L256.0 241.9 L257.5 242.4 L259.0 242.6 L260.5 242.9 L262.0 243.0 L263.5 243.1 L265.0 243.2 L266.5 243.2 L268.0 243.3 L269.5 243.1 L271.0 242.8 L272.5 242.3 L274.0 241.7 L275.5 241.1 L277.0 240.4 L278.5 239.8 L280.0 239.3 L281.5 239.0 L283.0 238.9 L284.5 238.9 L286.0 238.8 L287.5 238.8 L289.0 238.8 L290.5 238.7 L292.0 238.6 L293.5 238.5 L295.0 238.5 L296.5 238.4 L298.0 238.1 L299.5 237.4 L301.0 236.2 L302.5 234.5 L304.0 232.6 L305.5 230.4 L307.0 228.1 L308.5 225.7 L310.0 223.4 L311.5 221.1 L313.0 218.6 L314.5 215.9 L316.0 212.8 L317.5 209.6 L319.0 206.3 L320.5 202.8 L322.0 199.4 L323.5 195.8 L325.0 192.0 L326.5 188.0 L328.0 183.9 L329.5 179.6 L331.0 175.1 L332.5 170.3 L334.0 165.1 L335.5 159.6 L337.0 154.0 L338.5 148.3 L340.0 142.3 L341.5 136.2 L343.0 129.8 L344.5 123.0 L346.0 115.6 L347.5 107.3 L349.0 98.6 L350.5 90.1 L352.0 82.5 L353.5 75.5 L355.0 69.1 L356.5 64.2 L358.0 61.3 L359.5 59.0 L361.0 57.1 L362.5 55.4 L364.0 53.9 L365.5 52.6 L367.0 51.2 L368.5 49.8 L370.0 48.2 L371.5 46.3 L373.0 43.5 L374.5 40.0 L376.0 36.0 L377.5 31.7 L379.0 27.6 L380.5 23.8 L382.0 20.7 L383.5 18.6 L385.0 17.7 L386.5 17.5 L388.0 17.4 L389.5 17.2 L391.0 17.0 L392.5 16.9 L394.0 16.7 L395.5 16.6 L397.0 16.4 L398.5 16.2 L400.0 16.1 L401.5 15.9 L403.0 15.7 L404.5 15.4 L406.0 15.2 L407.5 15.0 L409.0 14.8 L410.5 14.6 L412.0 14.5 L413.5 14.4 L415.0 14.5 L416.5 14.7 L418.0 15.0 L419.5 15.4 L421.0 15.9 L422.5 16.4 L424.0 16.8 L425.5 17.2 L427.0 17.5 L428.5 17.7 L430.0 17.9 L431.5 17.9 L433.0 18.0 L434.5 18.1 L436.0 18.2 L437.5 18.2 L439.0 18.3 L440.5 18.4 L442.0 18.6 L443.5 22.4 L445.0 30.9 L446.5 40.6 L448.0 47.7 L449.5 52.0 L451.0 55.7 L452.5 58.9 L454.0 62.0 L455.5 65.1 L457.0 68.3 L458.5 71.5 L460.0 74.7 L461.5 77.9 L463.0 81.3 L464.5 84.8 L466.0 88.6 L467.5 92.6 L469.0 96.6 L470.5 100.6 L472.0 104.5 L473.5 108.0 L475.0 111.2 L476.5 114.0 L478.0 116.3 L479.5 118.5 L481.0 120.6 L482.5 122.7 L484.0 124.7 L485.5 126.6 L487.0 128.3 L488.5 129.9 L490.0 131.2 L491.5 132.4 L493.0 133.5 L494.5 134.5 L496.0 135.5 L497.5 136.5 L499.0 137.4 L500.5 138.3 L502.0 139.2 L503.5 140.2 L505.0 141.1 L506.5 142.2 L508.0 143.3 L509.5 144.5 L511.0 145.8 L512.5 147.0 L514.0 148.3 L515.5 149.5 L517.0 150.6 L518.5 151.7 L520.0 152.8 L521.5 153.9 L523.0 155.1 L524.5 156.3 L526.0 157.4 L527.5 158.5 L529.0 159.5 L530.5 160.2 L532.0 160.8 L533.5 161.0 L535.0 161.0 L536.5 160.8 L538.0 160.4 L539.5 160.0 L541.0 159.4 L542.5 158.9 L544.0 158.3 L545.5 157.8 L547.0 157.3 L548.5 157.0 L550.0 156.7 L551.5 156.4 L553.0 156.2 L554.5 156.0 L556.0 155.8 L557.5 155.5 L559.0 155.2 L560.5 154.9 L562.0 154.5 L563.5 154.0 L565.0 153.2 L566.5 152.2 L568.0 151.1 L569.5 149.9 L571.0 148.7 L572.5 147.5 L574.0 146.4 L575.5 145.3 L577.0 144.4 L578.5 143.5 L580.0 142.6 L581.5 141.8 L583.0 141.0 L584.5 140.2 L586.0 139.4 L587.5 138.5 L589.0 137.7 L590.5 136.8 L592.0 135.8 L593.5 134.7 L595.0 133.5 L596.5 132.3 L598.0 131.0 L599.5 129.7 L601.0 128.5 L602.5 127.3 L604.0 126.2 L605.5 125.2 L607.0 124.3 L608.5 123.4 L610.0 122.6 L611.5 122.0 L613.0 121.6 L614.5 121.4 L616.0 121.5 L617.5 121.8 L619.0 122.2 L620.5 122.8 L620.5 179.2 L619.0 178.4 L617.5 177.5 L616.0 176.5 L614.5 175.3 L613.0 173.6 L611.5 171.7 L610.0 169.8 L608.5 168.2 L607.0 167.0 L605.5 166.5 L604.0 166.7 L602.5 167.1 L601.0 167.7 L599.5 168.4 L598.0 169.3 L596.5 170.2 L595.0 171.1 L593.5 172.1 L592.0 173.0 L590.5 173.8 L589.0 174.7 L587.5 175.7 L586.0 176.7 L584.5 177.7 L583.0 178.8 L581.5 179.9 L580.0 181.0 L578.5 182.1 L577.0 183.3 L575.5 184.4 L574.0 185.7 L572.5 187.0 L571.0 188.4 L569.5 189.8 L568.0 191.2 L566.5 192.5 L565.0 193.7 L563.5 194.7 L562.0 195.5 L560.5 196.1 L559.0 196.7 L557.5 197.2 L556.0 197.7 L554.5 198.1 L553.0 198.6 L551.5 199.0 L550.0 199.4 L548.5 199.8 L547.0 200.3 L545.5 200.8 L544.0 201.3 L542.5 201.9 L541.0 202.5 L539.5 203.0 L538.0 203.4 L536.5 203.7 L535.0 203.9 L533.5 203.9 L532.0 203.6 L530.5 203.0 L529.0 202.2 L527.5 201.2 L526.0 200.1 L524.5 198.9 L523.0 197.7 L521.5 196.5 L520.0 195.5 L518.5 194.7 L517.0 193.9 L515.5 193.2 L514.0 192.5 L512.5 191.8 L511.0 191.1 L509.5 190.3 L508.0 189.6 L506.5 188.7 L505.0 187.9 L503.5 186.8 L502.0 185.5 L500.5 184.0 L499.0 182.4 L497.5 180.8 L496.0 179.2 L494.5 177.7 L493.0 176.4 L491.5 175.2 L490.0 174.4 L488.5 173.6 L487.0 172.9 L485.5 172.2 L484.0 171.5 L482.5 170.8 L481.0 170.0 L479.5 169.1 L478.0 168.0 L476.5 166.7 L475.0 164.0 L473.5 159.8 L472.0 154.5 L470.5 148.4 L469.0 141.9 L467.5 135.2 L466.0 128.7 L464.5 122.8 L463.0 117.7 L461.5 113.3 L460.0 108.9 L458.5 104.8 L457.0 101.1 L455.5 97.7 L454.0 94.6 L452.5 91.4 L451.0 88.3 L449.5 85.3 L448.0 82.3 L446.5 78.9 L445.0 75.2 L443.5 72.1 L442.0 70.4 L440.5 69.8 L439.0 69.3 L437.5 68.9 L436.0 68.5 L434.5 68.2 L433.0 67.9 L431.5 67.5 L430.0 67.1 L428.5 66.5 L427.0 65.7 L425.5 64.3 L424.0 62.5 L422.5 60.3 L421.0 58.1 L419.5 56.0 L418.0 54.1 L416.5 52.6 L415.0 51.7 L413.5 51.6 L412.0 51.8 L410.5 52.4 L409.0 53.1 L407.5 54.0 L406.0 55.0 L404.5 56.1 L403.0 57.1 L401.5 58.1 L400.0 58.9 L398.5 59.7 L397.0 60.5 L395.5 61.2 L394.0 61.9 L392.5 62.7 L391.0 63.4 L389.5 64.1 L388.0 64.9 L386.5 65.6 L385.0 66.3 L383.5 67.2 L382.0 68.2 L380.5 69.4 L379.0 70.8 L377.5 72.3 L376.0 73.8 L374.5 75.4 L373.0 77.0 L371.5 78.5 L370.0 80.1 L368.5 81.9 L367.0 84.1 L365.5 86.6 L364.0 89.4 L362.5 92.5 L361.0 95.8 L359.5 99.4 L358.0 103.3 L356.5 107.4 L355.0 112.9 L353.5 119.7 L352.0 126.9 L350.5 134.4 L349.0 141.7 L347.5 148.4 L346.0 154.6 L344.5 160.4 L343.0 166.0 L341.5 171.3 L340.0 176.4 L338.5 181.3 L337.0 185.9 L335.5 190.4 L334.0 194.9 L332.5 199.3 L331.0 203.9 L329.5 208.6 L328.0 213.5 L326.5 218.3 L325.0 223.2 L323.5 228.0 L322.0 232.6 L320.5 237.3 L319.0 242.3 L317.5 247.2 L316.0 252.0 L314.5 256.4 L313.0 260.2 L311.5 263.3 L310.0 265.6 L308.5 267.8 L307.0 269.9 L305.5 271.8 L304.0 273.6 L302.5 275.1 L301.0 276.4 L299.5 277.5 L298.0 278.3 L296.5 278.8 L295.0 279.2 L293.5 279.6 L292.0 280.0 L290.5 280.3 L289.0 280.6 L287.5 280.8 L286.0 281.0 L284.5 281.1 L283.0 281.1 L281.5 281.1 L280.0 281.0 L278.5 280.8 L277.0 280.6 L275.5 280.4 L274.0 280.2 L272.5 280.0 L271.0 279.9 L269.5 279.8 L268.0 279.7 L266.5 280.1 L265.0 280.9 L263.5 282.0 L262.0 283.2 L260.5 284.4 L259.0 285.3 L257.5 285.7 L256.0 285.1 L254.5 282.5 L253.0 278.6 L251.5 274.4 L250.0 270.6 L248.5 267.4 L247.0 264.0 L245.5 260.6 L244.0 257.5 L242.5 254.7 L241.0 252.1 L239.5 249.5 L238.0 247.0 L236.5 244.4 L235.0 241.8 L233.5 239.2 L232.0 236.5 L230.5 233.6 L229.0 230.5 L227.5 227.2 L226.0 224.0 L224.5 220.8 L223.0 217.7 L221.5 214.9 L220.0 212.2 L218.5 209.2 L217.0 206.3 L215.5 203.6 L214.0 201.6 L212.5 200.6 L211.0 200.7 L209.5 201.6 L208.0 203.0 L206.5 204.5 L205.0 206.0 L203.5 207.3 L202.0 208.4 L200.5 209.4 L199.0 210.4 L197.5 211.4 L196.0 212.4 L194.5 213.5 L193.0 214.8 L191.5 216.1 L190.0 217.4 L188.5 218.8 L187.0 220.3 L185.5 221.9 L184.0 223.8 L182.5 226.0 L181.0 228.5 L179.5 232.2 L178.0 237.4 L176.5 243.6 L175.0 250.2 L173.5 256.8 L172.0 262.9 L170.5 268.6 L169.0 274.3 L167.5 280.0 L166.0 285.4 L164.5 290.4 L163.0 294.8 L161.5 299.0 L160.0 302.9 L158.5 306.7 L157.0 310.4 L155.5 313.9 L154.0 317.2 L152.5 320.5 L151.0 323.8 L149.5 326.9 L148.0 330.1 L146.5 333.2 L145.0 336.3 L143.5 339.4 L142.0 342.3 L140.5 345.1 L139.0 347.7 L137.5 350.2 L136.0 352.5 L134.5 354.5 L133.0 356.5 L131.5 358.4 L130.0 360.1 L128.5 361.8 L127.0 363.4 L125.5 364.9 L124.0 366.3 L122.5 367.5 L121.0 368.7 L119.5 369.8 L118.0 371.0 L116.5 372.1 L115.0 373.2 L113.5 374.3 L112.0 375.4 L110.5 376.4 L109.0 377.2 L107.5 378.0 L106.0 378.7 L104.5 379.2 L103.0 379.5 L101.5 379.7 L100.0 379.7 L98.5 379.6 L97.0 379.5 L95.5 379.3 L94.0 379.2 L92.5 378.9 L91.0 378.7 L89.5 378.5 L88.0 378.2 L86.5 378.0 L85.0 377.8 L83.5 377.6 L82.0 377.4 L80.5 377.3 L79.0 377.3 L77.5 377.2 L76.0 377.2 L74.5 377.3 L73.0 377.3 L71.5 377.3 L70.0 377.4 L68.5 377.4 L67.0 377.5 L65.5 377.5 L64.0 377.6 L62.5 377.7 L61.0 377.8 L59.5 378.0 L58.0 378.1 L56.5 378.3 L55.0 378.4 L53.5 378.6 L52.0 378.8 Z" fill="#0b7e31"/>
<path d="M52.0 345.4 L53.5 381.9 L55.0 346.1 L56.5 371.1 L58.0 347.8 L59.5 379.6 L61.0 348.2 L62.5 384.8 L64.0 342.9 L65.5 399.3 L67.0 357.0 L68.5 377.1 L70.0 349.0 L71.5 397.7 L73.0 358.6 L74.5 384.3 L76.0 357.9 L77.5 384.2 L79.0 341.3 L80.5 384.6 L82.0 350.3 L83.5 380.8 L85.0 366.9 L86.5 381.2 L88.0 351.3 L89.5 383.9 L91.0 352.7 L92.5 383.9 L94.0 349.5 L95.5 387.8 L97.0 357.5 L98.5 372.8 L100.0 348.4 L101.5 388.5 L103.0 358.9 L104.5 388.3 L106.0 318.4 L107.5 385.8 L109.0 349.5 L110.5 378.7 L112.0 348.6 L113.5 383.6 L115.0 342.6 L116.5 367.8 L118.0 341.9 L119.5 376.1 L121.0 338.1 L122.5 375.8 L124.0 317.5 L125.5 373.9 L127.0 341.1 L128.5 368.6 L130.0 329.3 L131.5 363.5 L133.0 330.3 L134.5 359.4 L136.0 321.8 L137.5 354.2 L139.0 303.3 L140.5 351.4 L142.0 304.1 L143.5 347.4 L145.0 277.8 L146.5 337.9 L148.0 304.5 L149.5 333.7 L151.0 294.1 L152.5 319.7 L154.0 287.1 L155.5 322.1 L157.0 292.8 L158.5 310.9 L160.0 273.1 L161.5 307.2 L163.0 264.4 L164.5 298.0 L166.0 257.1 L167.5 286.9 L169.0 243.9 L170.5 269.6 L172.0 244.1 L173.5 256.4 L175.0 221.8 L176.5 228.9 L178.0 215.1 L179.5 241.5 L181.0 196.9 L182.5 224.6 L184.0 190.9 L185.5 172.0 L187.0 174.0 L188.5 220.9 L190.0 205.3 L191.5 224.3 L193.0 180.7 L194.5 219.4 L196.0 183.8 L197.5 155.0 L199.0 157.0 L200.5 226.7 L202.0 152.3 L203.5 215.4 L205.0 166.3 L206.5 215.0 L208.0 145.1 L209.5 125.0 L211.0 127.0 L212.5 209.8 L214.0 160.3 L215.5 246.2 L217.0 171.2 L218.5 201.5 L220.0 175.1 L221.5 221.9 L223.0 173.1 L224.5 222.1 L226.0 189.7 L227.5 172.0 L229.0 174.0 L230.5 229.3 L232.0 197.1 L233.5 247.4 L235.0 198.7 L236.5 233.6 L238.0 208.2 L239.5 248.0 L241.0 231.8 L242.5 291.7 L244.0 220.7 L245.5 260.8 L247.0 249.4 L248.5 267.6 L250.0 225.2 L251.5 285.0 L253.0 300.0 L254.5 298.0 L256.0 229.7 L257.5 300.6 L259.0 235.9 L260.5 268.3 L262.0 197.6 L263.5 294.8 L265.0 248.8 L266.5 293.2 L268.0 240.3 L269.5 258.3 L271.0 229.8 L272.5 292.6 L274.0 230.1 L275.5 326.4 L277.0 216.2 L278.5 293.3 L280.0 241.4 L281.5 285.1 L283.0 233.7 L284.5 294.7 L286.0 220.0 L287.5 222.0 L289.0 233.2 L290.5 291.1 L292.0 231.7 L293.5 291.7 L295.0 232.1 L296.5 291.9 L298.0 224.1 L299.5 290.1 L301.0 297.0 L302.5 295.0 L304.0 218.6 L305.5 282.1 L307.0 217.4 L308.5 260.6 L310.0 231.7 L311.5 277.6 L313.0 206.8 L314.5 268.8 L316.0 206.4 L317.5 260.2 L319.0 196.2 L320.5 245.3 L322.0 190.0 L323.5 252.0 L325.0 182.8 L326.5 220.4 L328.0 147.6 L329.5 142.0 L331.0 144.0 L332.5 241.6 L334.0 174.2 L335.5 194.4 L337.0 144.7 L338.5 190.5 L340.0 135.6 L341.5 178.5 L343.0 125.0 L344.5 173.1 L346.0 116.4 L347.5 158.1 L349.0 83.5 L350.5 138.2 L352.0 71.2 L353.5 124.2 L355.0 55.5 L356.5 111.9 L358.0 62.0 L359.5 105.3 L361.0 46.8 L362.5 103.6 L364.0 41.8 L365.5 99.2 L367.0 40.3 L368.5 80.8 L370.0 50.9 L371.5 82.2 L373.0 61.4 L374.5 87.5 L376.0 24.4 L377.5 78.3 L379.0 15.8 L380.5 82.8 L382.0 8.5 L383.5 83.6 L385.0 13.6 L386.5 80.2 L388.0 -4.9 L389.5 76.0 L391.0 2.1 L392.5 72.5 L394.0 9.0 L395.5 76.0 L397.0 -23.4 L398.5 72.2 L400.0 7.0 L401.5 69.1 L403.0 29.7 L404.5 62.9 L406.0 1.5 L407.5 66.9 L409.0 13.4 L410.5 66.0 L412.0 11.6 L413.5 59.4 L415.0 3.2 L416.5 63.5 L418.0 8.0 L419.5 49.5 L421.0 3.1 L422.5 75.7 L424.0 15.1 L425.5 76.0 L427.0 39.7 L428.5 80.5 L430.0 -6.4 L431.5 77.4 L433.0 26.2 L434.5 85.2 L436.0 2.1 L437.5 83.4 L439.0 4.7 L440.5 61.4 L442.0 1.8 L443.5 79.6 L445.0 30.4 L446.5 85.8 L448.0 36.1 L449.5 95.7 L451.0 71.4 L452.5 103.1 L454.0 51.8 L455.5 103.0 L457.0 56.3 L458.5 114.6 L460.0 88.0 L461.5 125.6 L463.0 86.5 L464.5 135.9 L466.0 67.0 L467.5 146.6 L469.0 81.5 L470.5 160.1 L472.0 118.4 L473.5 165.0 L475.0 104.5 L476.5 181.8 L478.0 101.5 L479.5 168.9 L481.0 128.9 L482.5 174.0 L484.0 110.6 L485.5 181.0 L487.0 129.3 L488.5 188.8 L490.0 117.9 L491.5 188.3 L493.0 105.4 L494.5 188.7 L496.0 122.7 L497.5 192.5 L499.0 94.8 L500.5 190.9 L502.0 129.2 L503.5 190.9 L505.0 140.6 L506.5 192.9 L508.0 154.7 L509.5 204.7 L511.0 131.3 L512.5 195.3 L514.0 134.7 L515.5 207.1 L517.0 112.5 L518.5 239.0 L520.0 237.0 L521.5 211.5 L523.0 149.0 L524.5 196.4 L526.0 147.7 L527.5 214.9 L529.0 153.6 L530.5 217.4 L532.0 149.5 L533.5 200.1 L535.0 159.8 L536.5 213.5 L538.0 153.9 L539.5 228.4 L541.0 146.5 L542.5 207.1 L544.0 150.9 L545.5 214.8 L547.0 148.7 L548.5 207.9 L550.0 145.2 L551.5 212.9 L553.0 161.9 L554.5 212.6 L556.0 150.2 L557.5 206.8 L559.0 141.0 L560.5 210.7 L562.0 140.1 L563.5 189.3 L565.0 158.2 L566.5 192.8 L568.0 137.1 L569.5 196.8 L571.0 142.4 L572.5 187.0 L574.0 137.3 L575.5 195.1 L577.0 131.4 L578.5 195.8 L580.0 124.2 L581.5 189.8 L583.0 127.5 L584.5 162.4 L586.0 72.0 L587.5 74.0 L589.0 143.6 L590.5 187.2 L592.0 124.0 L593.5 181.8 L595.0 129.8 L596.5 198.7 L598.0 133.9 L599.5 181.7 L601.0 115.4 L602.5 173.4 L604.0 115.3 L605.5 174.2 L607.0 85.0 L608.5 166.5 L610.0 116.5 L611.5 220.1 L613.0 94.0 L614.5 96.0 L616.0 113.0 L617.5 183.8 L619.0 116.1 L620.5 191.2" stroke="#0b7e31" stroke-width="2.6"/>
<path d="M52.0 333.0 L53.0 330.2 L54.0 332.0 L55.0 330.2 L56.0 329.3 L57.0 329.2 L58.0 327.5 L59.0 326.5 L60.0 325.9 L61.0 325.7 L62.0 325.8 L63.0 323.5 L64.0 323.0 L65.0 321.6 L66.0 321.9 L67.0 324.3 L68.0 324.3 L69.0 324.1 L70.0 323.4 L71.0 322.0 L72.0 323.5 L73.0 321.8 L74.0 323.0 L75.0 324.5 L76.0 322.5 L77.0 324.0 L78.0 324.8 L79.0 322.5 L80.0 324.0 L81.0 322.7 L82.0 322.9 L83.0 322.7 L84.0 323.2 L85.0 324.1 L86.0 325.4 L87.0 326.1 L88.0 325.6 L89.0 324.2 L90.0 324.8 L91.0 323.4 L92.0 325.7 L93.0 323.6 L94.0 326.5 L95.0 326.1 L96.0 326.5 L97.0 326.2 L98.0 326.2 L99.0 327.0 L100.0 326.9 L101.0 324.2 L102.0 325.4 L103.0 325.1 L104.0 323.2 L105.0 322.6 L106.0 324.5 L107.0 321.1 L108.0 322.1 L109.0 318.5 L110.0 317.2 L111.0 316.7 L112.0 315.6 L113.0 314.9 L114.0 313.5 L115.0 313.3 L116.0 310.7 L117.0 311.9 L118.0 308.8 L119.0 309.7 L120.0 308.3 L121.0 303.9 L122.0 305.2 L123.0 303.1 L124.0 299.3 L125.0 298.5 L126.0 297.7 L127.0 296.0 L128.0 294.4 L129.0 292.3 L130.0 291.2 L131.0 288.2 L132.0 285.7 L133.0 281.0 L134.0 279.5 L135.0 278.0 L136.0 272.2 L137.0 269.7 L138.0 266.3 L139.0 265.6 L140.0 259.6 L141.0 257.5 L142.0 253.2 L143.0 249.3 L144.0 243.2 L145.0 240.5 L146.0 233.9 L147.0 230.5 L148.0 224.9 L149.0 223.1 L150.0 220.0 L151.0 217.0 L152.0 211.5 L153.0 208.9 L154.0 206.5 L155.0 201.0 L156.0 196.5 L157.0 193.2 L158.0 190.2 L159.0 184.5 L160.0 178.9 L161.0 172.7 L162.0 167.0 L163.0 161.1 L164.0 154.2 L165.0 150.2 L166.0 143.9 L167.0 139.6 L168.0 131.5 L169.0 129.0 L170.0 123.5 L171.0 115.6 L172.0 111.4 L173.0 105.9 L174.0 102.5 L175.0 96.1 L176.0 89.8 L177.0 83.8 L178.0 80.5 L179.0 75.2 L180.0 72.1 L181.0 68.6 L182.0 68.0 L183.0 63.0 L184.0 61.5 L185.0 58.2 L186.0 54.0 L187.0 51.9 L188.0 48.7 L189.0 46.9 L190.0 42.5 L191.0 40.4 L192.0 34.1 L193.0 31.8 L194.0 30.2 L195.0 30.0 L196.0 33.1 L197.0 33.0 L198.0 34.9 L199.0 33.3 L200.0 33.4 L201.0 34.5 L202.0 34.7 L203.0 37.5 L204.0 39.7 L205.0 42.2 L206.0 43.7 L207.0 44.0 L208.0 44.6 L209.0 47.6 L210.0 49.4 L211.0 51.5 L212.0 54.9 L213.0 58.9 L214.0 61.0 L215.0 66.6 L216.0 70.4 L217.0 73.8 L218.0 77.5 L219.0 82.5 L220.0 83.3 L221.0 88.1 L222.0 92.4 L223.0 95.6 L224.0 98.9 L225.0 103.8 L226.0 107.8 L227.0 110.7 L228.0 118.4 L229.0 123.2 L230.0 125.9 L231.0 132.9 L232.0 138.6 L233.0 142.0 L234.0 149.1 L235.0 152.2 L236.0 157.9 L237.0 165.4 L238.0 170.9 L239.0 174.0 L240.0 177.9 L241.0 182.6 L242.0 186.9 L243.0 190.9 L244.0 198.3 L245.0 198.9 L246.0 203.3 L247.0 205.3 L248.0 207.8 L249.0 209.9 L250.0 210.5 L251.0 214.9 L252.0 217.7 L253.0 222.7 L254.0 227.4 L255.0 234.9 L256.0 238.0 L257.0 245.0 L258.0 248.0 L259.0 250.2 L260.0 254.0 L261.0 254.5 L262.0 258.3 L263.0 260.8 L264.0 262.9 L265.0 264.9 L266.0 268.7 L267.0 271.4 L268.0 272.9 L269.0 272.1 L270.0 274.5 L271.0 276.0 L272.0 278.1 L273.0 278.3 L274.0 280.5 L275.0 279.0 L276.0 281.4 L277.0 282.2 L278.0 282.9 L279.0 285.1 L280.0 284.6 L281.0 286.1 L282.0 286.8 L283.0 289.1 L284.0 286.8 L285.0 289.3 L286.0 288.3 L287.0 290.0 L288.0 289.0 L289.0 290.5 L290.0 289.2 L291.0 288.6 L292.0 288.8 L293.0 289.2 L294.0 289.1 L295.0 287.3 L296.0 287.6 L297.0 286.7 L298.0 288.3 L299.0 286.1 L300.0 287.8 L301.0 286.0 L302.0 286.1 L303.0 284.9 L304.0 285.1 L305.0 285.7 L306.0 282.2 L307.0 283.0 L308.0 280.9 L309.0 278.1 L310.0 277.9 L311.0 275.1 L312.0 270.7 L313.0 269.5 L314.0 268.1 L315.0 266.6 L316.0 264.2 L317.0 262.6 L318.0 258.5 L319.0 258.7 L320.0 255.1 L321.0 253.6 L322.0 253.0 L323.0 249.7 L324.0 248.4 L325.0 248.6 L326.0 246.2 L327.0 243.7 L328.0 239.8 L329.0 239.8 L330.0 236.6 L331.0 234.7 L332.0 232.2 L333.0 228.7 L334.0 225.6 L335.0 222.0 L336.0 221.2 L337.0 215.4 L338.0 212.4 L339.0 208.3 L340.0 207.2 L341.0 202.8 L342.0 199.1 L343.0 196.0 L344.0 195.0 L345.0 193.3 L346.0 191.2 L347.0 189.1 L348.0 184.1 L349.0 183.6 L350.0 179.8 L351.0 177.3 L352.0 176.6 L353.0 175.7 L354.0 173.1 L355.0 171.3 L356.0 168.9 L357.0 166.3 L358.0 163.5 L359.0 160.7 L360.0 155.5 L361.0 152.7 L362.0 152.4 L363.0 148.2 L364.0 144.7 L365.0 142.1 L366.0 138.9 L367.0 134.6 L368.0 131.8 L369.0 130.6 L370.0 128.0 L371.0 123.9 L372.0 121.5 L373.0 119.9 L374.0 118.4 L375.0 116.3 L376.0 111.0 L377.0 109.7 L378.0 106.9 L379.0 107.2 L380.0 104.7 L381.0 101.7 L382.0 98.6 L383.0 97.3 L384.0 94.5 L385.0 95.6 L386.0 91.4 L387.0 91.9 L388.0 88.6 L389.0 87.2 L390.0 85.8 L391.0 85.2 L392.0 84.0 L393.0 84.0 L394.0 80.9 L395.0 81.2 L396.0 78.7 L397.0 80.9 L398.0 79.6 L399.0 77.5 L400.0 76.4 L401.0 75.2 L402.0 75.9 L403.0 73.8 L404.0 72.4 L405.0 73.0 L406.0 72.9 L407.0 71.4 L408.0 71.2 L409.0 72.9 L410.0 72.6 L411.0 73.0 L412.0 70.5 L413.0 72.5 L414.0 71.4 L415.0 73.5 L416.0 74.5 L417.0 72.9 L418.0 75.1 L419.0 74.6 L420.0 78.8 L421.0 78.1 L422.0 80.0 L423.0 80.4 L424.0 83.7 L425.0 85.4 L426.0 87.3 L427.0 86.3 L428.0 89.5 L429.0 89.7 L430.0 92.7 L431.0 92.5 L432.0 94.8 L433.0 96.2 L434.0 97.6 L435.0 98.8 L436.0 99.6 L437.0 101.5 L438.0 101.8 L439.0 103.9 L440.0 104.2 L441.0 106.2 L442.0 109.8 L443.0 110.7 L444.0 110.4 L445.0 111.9 L446.0 116.4 L447.0 117.5 L448.0 117.2 L449.0 121.9 L450.0 121.3 L451.0 125.8 L452.0 125.6 L453.0 128.8 L454.0 128.7 L455.0 131.3 L456.0 134.2 L457.0 136.3 L458.0 135.7 L459.0 138.4 L460.0 138.3 L461.0 139.7 L462.0 144.4 L463.0 144.8 L464.0 145.5 L465.0 148.6 L466.0 148.2 L467.0 150.7 L468.0 152.5 L469.0 156.5 L470.0 155.4 L471.0 158.7 L472.0 161.6 L473.0 163.5 L474.0 164.1 L475.0 167.1 L476.0 170.1 L477.0 171.4 L478.0 174.2 L479.0 174.8 L480.0 177.3 L481.0 179.8 L482.0 181.6 L483.0 183.7 L484.0 186.1 L485.0 189.1 L486.0 191.3 L487.0 193.9 L488.0 195.4 L489.0 198.6 L490.0 200.9 L491.0 203.4 L492.0 203.5 L493.0 207.2 L494.0 206.2 L495.0 210.7 L496.0 212.7 L497.0 212.5 L498.0 213.2 L499.0 215.7 L500.0 219.4 L501.0 219.1 L502.0 221.7 L503.0 222.3 L504.0 222.7 L505.0 225.5 L506.0 227.1 L507.0 229.1 L508.0 230.7 L509.0 232.7 L510.0 234.7 L511.0 236.9 L512.0 235.6 L513.0 239.1 L514.0 238.4 L515.0 241.6 L516.0 242.6 L517.0 245.8 L518.0 246.4 L519.0 247.5 L520.0 248.3 L521.0 249.9 L522.0 253.3 L523.0 253.3 L524.0 256.3 L525.0 259.8 L526.0 261.1 L527.0 265.7 L528.0 266.9 L529.0 270.5 L530.0 273.5 L531.0 274.4 L532.0 277.4 L533.0 279.1 L534.0 279.6 L535.0 281.3 L536.0 281.3 L537.0 282.6 L538.0 285.9 L539.0 284.6 L540.0 286.3 L541.0 287.7 L542.0 287.8 L543.0 288.7 L544.0 289.7 L545.0 292.7 L546.0 295.2 L547.0 293.4 L548.0 296.3 L549.0 297.1 L550.0 298.1 L551.0 299.9 L552.0 299.6 L553.0 301.6 L554.0 301.1 L555.0 303.7 L556.0 304.8 L557.0 304.9 L558.0 304.2 L559.0 307.0 L560.0 308.4 L561.0 308.3 L562.0 309.0 L563.0 309.7 L564.0 311.2 L565.0 312.4 L566.0 311.8 L567.0 311.9 L568.0 314.6 L569.0 315.6 L570.0 314.3 L571.0 313.9 L572.0 314.7 L573.0 318.2 L574.0 317.8 L575.0 317.5 L576.0 317.2 L577.0 318.8 L578.0 320.2 L579.0 321.6 L580.0 321.4 L581.0 322.4 L582.0 321.9 L583.0 324.2 L584.0 322.6 L585.0 324.3 L586.0 324.8 L587.0 324.9 L588.0 325.6 L589.0 327.2 L590.0 326.9 L591.0 327.5 L592.0 330.1 L593.0 332.0 L594.0 332.6 L595.0 331.2 L596.0 331.8 L597.0 332.5 L598.0 334.2 L599.0 336.0 L600.0 337.0 L601.0 338.8 L602.0 339.2 L603.0 340.0 L604.0 340.5 L605.0 340.1 L606.0 342.7 L607.0 343.4 L608.0 343.8 L609.0 344.9 L610.0 344.6 L611.0 345.0 L612.0 345.8 L613.0 344.7 L614.0 344.9 L615.0 345.9 L616.0 346.6 L617.0 347.4 L618.0 348.2 L619.0 350.1 L620.0 349.4 L621.0 351.9 L621.0 358.2 L620.0 358.1 L619.0 358.1 L618.0 358.0 L617.0 357.5 L616.0 354.2 L615.0 354.0 L614.0 354.4 L613.0 352.7 L612.0 352.0 L611.0 352.1 L610.0 351.3 L609.0 351.0 L608.0 349.9 L607.0 349.6 L606.0 350.4 L605.0 347.9 L604.0 347.9 L603.0 347.4 L602.0 348.1 L601.0 345.7 L600.0 345.4 L599.0 345.3 L598.0 343.5 L597.0 342.1 L596.0 341.6 L595.0 342.6 L594.0 342.2 L593.0 341.0 L592.0 337.6 L591.0 339.9 L590.0 338.8 L589.0 336.1 L588.0 337.6 L587.0 333.5 L586.0 332.8 L585.0 333.2 L584.0 333.7 L583.0 330.7 L582.0 332.4 L581.0 331.8 L580.0 330.8 L579.0 329.4 L578.0 327.7 L577.0 325.9 L576.0 326.3 L575.0 325.9 L574.0 325.7 L573.0 326.2 L572.0 324.6 L571.0 323.1 L570.0 323.6 L569.0 323.5 L568.0 323.3 L567.0 321.7 L566.0 319.4 L565.0 321.0 L564.0 318.8 L563.0 317.3 L562.0 318.9 L561.0 318.8 L560.0 316.9 L559.0 316.9 L558.0 316.5 L557.0 312.8 L556.0 311.5 L555.0 311.2 L554.0 312.6 L553.0 309.2 L552.0 308.3 L551.0 307.5 L550.0 307.0 L549.0 308.4 L548.0 304.9 L547.0 305.8 L546.0 302.5 L545.0 302.2 L544.0 303.1 L543.0 301.4 L542.0 300.8 L541.0 298.3 L540.0 296.7 L539.0 297.3 L538.0 294.4 L537.0 293.5 L536.0 294.3 L535.0 292.7 L534.0 292.3 L533.0 290.9 L532.0 288.0 L531.0 288.0 L530.0 287.6 L529.0 287.6 L528.0 283.7 L527.0 282.6 L526.0 280.8 L525.0 278.7 L524.0 274.6 L523.0 274.3 L522.0 271.8 L521.0 269.1 L520.0 265.4 L519.0 261.3 L518.0 259.5 L517.0 260.0 L516.0 256.5 L515.0 253.8 L514.0 253.9 L513.0 253.1 L512.0 251.0 L511.0 247.2 L510.0 246.7 L509.0 244.3 L508.0 244.4 L507.0 241.0 L506.0 240.4 L505.0 239.7 L504.0 239.0 L503.0 237.6 L502.0 232.6 L501.0 232.2 L500.0 232.0 L499.0 228.8 L498.0 227.7 L497.0 226.5 L496.0 223.7 L495.0 224.7 L494.0 220.5 L493.0 219.8 L492.0 217.4 L491.0 217.0 L490.0 215.0 L489.0 212.7 L488.0 213.3 L487.0 209.3 L486.0 208.7 L485.0 205.5 L484.0 203.4 L483.0 201.3 L482.0 197.7 L481.0 197.4 L480.0 194.5 L479.0 192.6 L478.0 189.1 L477.0 187.6 L476.0 184.9 L475.0 181.9 L474.0 179.9 L473.0 179.6 L472.0 176.9 L471.0 174.5 L470.0 173.1 L469.0 169.6 L468.0 169.9 L467.0 165.6 L466.0 165.1 L465.0 161.8 L464.0 159.4 L463.0 157.4 L462.0 158.5 L461.0 153.8 L460.0 153.0 L459.0 150.8 L458.0 148.7 L457.0 150.0 L456.0 148.7 L455.0 146.8 L454.0 145.6 L453.0 141.8 L452.0 140.3 L451.0 138.8 L450.0 137.3 L449.0 136.2 L448.0 134.1 L447.0 130.9 L446.0 130.4 L445.0 129.5 L444.0 127.9 L443.0 124.5 L442.0 122.1 L441.0 119.8 L440.0 118.6 L439.0 116.8 L438.0 114.7 L437.0 113.7 L436.0 113.8 L435.0 111.8 L434.0 107.8 L433.0 108.8 L432.0 106.3 L431.0 103.8 L430.0 104.4 L429.0 102.5 L428.0 99.2 L427.0 98.0 L426.0 98.4 L425.0 98.3 L424.0 97.2 L423.0 93.1 L422.0 92.4 L421.0 92.6 L420.0 90.0 L419.0 88.5 L418.0 86.1 L417.0 86.9 L416.0 84.4 L415.0 83.7 L414.0 81.2 L413.0 80.4 L412.0 78.0 L411.0 79.4 L410.0 77.4 L409.0 79.1 L408.0 80.5 L407.0 81.4 L406.0 80.8 L405.0 80.4 L404.0 81.8 L403.0 82.0 L402.0 83.8 L401.0 84.8 L400.0 86.8 L399.0 86.6 L398.0 88.1 L397.0 91.2 L396.0 91.0 L395.0 92.9 L394.0 91.8 L393.0 96.3 L392.0 96.1 L391.0 99.2 L390.0 100.7 L389.0 101.6 L388.0 103.7 L387.0 107.2 L386.0 107.7 L385.0 109.7 L384.0 114.0 L383.0 113.6 L382.0 116.5 L381.0 117.9 L380.0 122.4 L379.0 123.4 L378.0 127.1 L377.0 128.5 L376.0 132.2 L375.0 135.2 L374.0 139.2 L373.0 142.2 L372.0 145.0 L371.0 146.7 L370.0 149.6 L369.0 153.4 L368.0 156.0 L367.0 158.7 L366.0 160.5 L365.0 162.8 L364.0 166.1 L363.0 167.7 L362.0 171.5 L361.0 173.7 L360.0 175.2 L359.0 178.8 L358.0 182.9 L357.0 182.4 L356.0 186.0 L355.0 187.6 L354.0 190.2 L353.0 193.7 L352.0 194.5 L351.0 197.0 L350.0 200.0 L349.0 202.5 L348.0 204.5 L347.0 208.4 L346.0 209.5 L345.0 213.4 L344.0 215.6 L343.0 219.0 L342.0 223.9 L341.0 226.5 L340.0 231.7 L339.0 232.9 L338.0 235.4 L337.0 237.8 L336.0 241.6 L335.0 243.5 L334.0 245.3 L333.0 246.1 L332.0 249.3 L331.0 250.2 L330.0 251.9 L329.0 256.1 L328.0 257.0 L327.0 259.0 L326.0 259.9 L325.0 261.7 L324.0 265.1 L323.0 264.3 L322.0 268.1 L321.0 268.5 L320.0 270.0 L319.0 273.0 L318.0 276.9 L317.0 278.2 L316.0 278.8 L315.0 282.0 L314.0 282.5 L313.0 286.4 L312.0 287.6 L311.0 289.2 L310.0 290.0 L309.0 290.5 L308.0 292.1 L307.0 290.3 L306.0 292.2 L305.0 293.4 L304.0 293.6 L303.0 294.9 L302.0 294.4 L301.0 294.5 L300.0 293.1 L299.0 296.1 L298.0 294.4 L297.0 296.7 L296.0 295.3 L295.0 297.0 L294.0 297.2 L293.0 296.2 L292.0 295.1 L291.0 295.5 L290.0 298.2 L289.0 296.7 L288.0 296.5 L287.0 298.1 L286.0 295.4 L285.0 297.4 L284.0 295.5 L283.0 296.6 L282.0 293.5 L281.0 294.9 L280.0 294.3 L279.0 294.1 L278.0 292.2 L277.0 290.8 L276.0 289.6 L275.0 289.8 L274.0 288.6 L273.0 289.6 L272.0 286.9 L271.0 285.0 L270.0 283.7 L269.0 283.8 L268.0 282.6 L267.0 282.4 L266.0 281.6 L265.0 280.6 L264.0 277.4 L263.0 276.0 L262.0 275.2 L261.0 273.2 L260.0 271.3 L259.0 269.9 L258.0 267.4 L257.0 265.5 L256.0 265.2 L255.0 262.1 L254.0 258.9 L253.0 255.2 L252.0 250.7 L251.0 246.8 L250.0 241.3 L249.0 237.4 L248.0 231.6 L247.0 227.8 L246.0 223.3 L245.0 221.0 L244.0 220.5 L243.0 219.1 L242.0 216.6 L241.0 211.0 L240.0 209.3 L239.0 206.0 L238.0 199.9 L237.0 196.2 L236.0 191.9 L235.0 190.3 L234.0 184.1 L233.0 181.9 L232.0 176.0 L231.0 170.8 L230.0 165.6 L229.0 161.5 L228.0 155.9 L227.0 150.1 L226.0 143.6 L225.0 137.6 L224.0 132.7 L223.0 127.0 L222.0 122.0 L221.0 117.0 L220.0 112.8 L219.0 111.2 L218.0 105.0 L217.0 100.4 L216.0 98.5 L215.0 94.0 L214.0 91.3 L213.0 88.4 L212.0 81.2 L211.0 77.1 L210.0 75.4 L209.0 70.9 L208.0 65.6 L207.0 63.6 L206.0 58.7 L205.0 56.4 L204.0 53.3 L203.0 54.2 L202.0 48.9 L201.0 48.9 L200.0 46.7 L199.0 44.2 L198.0 44.0 L197.0 39.7 L196.0 42.4 L195.0 46.8 L194.0 52.3 L193.0 58.4 L192.0 60.3 L191.0 64.8 L190.0 64.9 L189.0 68.4 L188.0 70.5 L187.0 76.7 L186.0 79.9 L185.0 81.9 L184.0 88.1 L183.0 91.7 L182.0 96.6 L181.0 101.4 L180.0 106.5 L179.0 112.3 L178.0 118.1 L177.0 123.6 L176.0 130.2 L175.0 133.5 L174.0 141.4 L173.0 146.3 L172.0 150.5 L171.0 157.3 L170.0 163.6 L169.0 169.0 L168.0 174.6 L167.0 178.8 L166.0 183.8 L165.0 189.3 L164.0 194.3 L163.0 200.5 L162.0 204.6 L161.0 208.9 L160.0 213.3 L159.0 214.2 L158.0 219.2 L157.0 221.7 L156.0 226.5 L155.0 229.2 L154.0 233.4 L153.0 237.0 L152.0 239.9 L151.0 243.6 L150.0 249.4 L149.0 252.6 L148.0 257.3 L147.0 260.0 L146.0 267.7 L145.0 269.8 L144.0 275.0 L143.0 275.2 L142.0 279.2 L141.0 281.6 L140.0 284.9 L139.0 288.0 L138.0 288.1 L137.0 292.5 L136.0 294.6 L135.0 296.5 L134.0 297.9 L133.0 299.9 L132.0 301.8 L131.0 304.9 L130.0 304.2 L129.0 305.3 L128.0 307.6 L127.0 311.0 L126.0 309.9 L125.0 311.8 L124.0 312.0 L123.0 314.8 L122.0 314.7 L121.0 316.3 L120.0 319.3 L119.0 320.7 L118.0 321.1 L117.0 321.1 L116.0 323.9 L115.0 324.1 L114.0 323.2 L113.0 326.3 L112.0 325.6 L111.0 328.7 L110.0 330.4 L109.0 329.5 L108.0 331.5 L107.0 330.9 L106.0 331.2 L105.0 333.9 L104.0 334.2 L103.0 333.8 L102.0 332.9 L101.0 333.6 L100.0 334.3 L99.0 331.5 L98.0 333.4 L97.0 332.1 L96.0 331.5 L95.0 332.5 L94.0 333.3 L93.0 333.9 L92.0 332.1 L91.0 333.6 L90.0 332.9 L89.0 330.9 L88.0 333.3 L87.0 331.3 L86.0 330.3 L85.0 330.0 L84.0 331.3 L83.0 330.8 L82.0 332.4 L81.0 332.4 L80.0 331.1 L79.0 329.5 L78.0 329.8 L77.0 331.2 L76.0 330.9 L75.0 332.1 L74.0 329.3 L73.0 328.9 L72.0 328.7 L71.0 329.8 L70.0 330.9 L69.0 331.3 L68.0 330.5 L67.0 331.4 L66.0 330.5 L65.0 332.6 L64.0 330.3 L63.0 333.5 L62.0 332.0 L61.0 334.3 L60.0 336.1 L59.0 336.3 L58.0 337.2 L57.0 338.5 L56.0 339.5 L55.0 339.8 L54.0 338.3 L53.0 340.7 L52.0 340.8 Z" fill="#3b3ba3" stroke="#3b3ba3" stroke-width="1.0"/>
</g>
<g clip-path="url(#cb)" fill="none">
<path d="M643.0 367.2 L644.5 367.2 L646.0 367.2 L647.5 367.2 L649.0 367.2 L650.5 367.2 L652.0 367.2 L653.5 367.2 L655.0 367.2 L656.5 367.2 L658.0 367.2 L659.5 367.2 L661.0 367.2 L662.5 367.2 L664.0 367.2 L665.5 367.2 L667.0 367.2 L668.5 367.2 L670.0 367.2 L671.5 367.2 L673.0 367.2 L674.5 367.3 L676.0 367.3 L677.5 367.3 L679.0 367.4 L680.5 367.5 L682.0 367.5 L683.5 367.6 L685.0 367.7 L686.5 367.8 L688.0 367.9 L689.5 368.0 L691.0 368.0 L692.5 368.1 L694.0 368.2 L695.5 368.3 L697.0 368.4 L698.5 368.5 L700.0 368.5 L701.5 368.6 L703.0 368.7 L704.5 368.7 L706.0 368.8 L707.5 368.8 L709.0 368.8 L710.5 368.8 L712.0 368.7 L713.5 368.0 L715.0 366.8 L716.5 365.3 L718.0 363.5 L719.5 361.7 L721.0 359.8 L722.5 358.0 L724.0 356.5 L725.5 355.3 L727.0 354.3 L728.5 353.4 L730.0 352.6 L731.5 351.9 L733.0 351.1 L734.5 350.3 L736.0 349.5 L737.5 348.4 L739.0 347.3 L740.5 345.8 L742.0 343.6 L743.5 340.8 L745.0 337.3 L746.5 333.4 L748.0 329.2 L749.5 325.0 L751.0 320.7 L752.5 316.7 L754.0 313.0 L755.5 309.6 L757.0 306.3 L758.5 303.1 L760.0 299.9 L761.5 296.6 L763.0 293.2 L764.5 289.6 L766.0 285.7 L767.5 281.4 L769.0 276.5 L770.5 270.4 L772.0 263.2 L773.5 255.3 L775.0 246.8 L776.5 238.1 L778.0 229.4 L779.5 220.9 L781.0 212.9 L782.5 205.6 L784.0 198.3 L785.5 190.8 L787.0 183.5 L788.5 176.4 L790.0 169.9 L791.5 164.1 L793.0 158.9 L794.5 154.3 L796.0 150.1 L797.5 146.2 L799.0 142.5 L800.5 138.9 L802.0 135.2 L803.5 131.5 L805.0 127.5 L806.5 123.3 L808.0 118.8 L809.5 113.8 L811.0 108.7 L812.5 103.5 L814.0 98.7 L815.5 94.4 L817.0 90.8 L818.5 87.9 L820.0 85.9 L821.5 84.8 L823.0 84.0 L824.5 83.4 L826.0 82.8 L827.5 82.4 L829.0 82.1 L830.5 81.9 L832.0 82.2 L833.5 83.4 L835.0 85.3 L836.5 87.9 L838.0 91.0 L839.5 94.4 L841.0 97.9 L842.5 101.4 L844.0 104.6 L845.5 107.5 L847.0 110.5 L848.5 113.5 L850.0 116.6 L851.5 119.7 L853.0 122.9 L854.5 126.1 L856.0 129.3 L857.5 132.5 L859.0 135.7 L860.5 139.1 L862.0 142.5 L863.5 145.9 L865.0 149.3 L866.5 152.7 L868.0 155.9 L869.5 159.1 L871.0 162.0 L872.5 164.8 L874.0 167.5 L875.5 170.3 L877.0 173.0 L878.5 175.6 L880.0 178.0 L881.5 180.3 L883.0 182.3 L884.5 184.0 L886.0 185.4 L887.5 186.6 L889.0 187.9 L890.5 189.1 L892.0 190.2 L893.5 191.2 L895.0 192.1 L896.5 192.9 L898.0 193.4 L899.5 193.6 L901.0 193.6 L902.5 193.5 L904.0 193.3 L905.5 193.1 L907.0 192.8 L908.5 192.4 L910.0 192.0 L911.5 191.5 L913.0 191.0 L914.5 190.5 L916.0 190.0 L917.5 189.3 L919.0 188.2 L920.5 187.0 L922.0 185.5 L923.5 183.8 L925.0 182.0 L926.5 180.1 L928.0 178.1 L929.5 176.1 L931.0 174.2 L932.5 172.3 L934.0 170.5 L935.5 168.8 L937.0 167.0 L938.5 165.2 L940.0 163.4 L941.5 161.5 L943.0 159.7 L944.5 157.8 L946.0 155.9 L947.5 154.1 L949.0 152.2 L950.5 150.4 L952.0 148.6 L953.5 146.9 L955.0 145.2 L956.5 143.6 L958.0 141.9 L959.5 140.2 L961.0 138.5 L962.5 136.8 L964.0 134.9 L965.5 133.0 L967.0 131.0 L968.5 128.8 L970.0 126.5 L971.5 124.1 L973.0 121.6 L974.5 119.0 L976.0 116.1 L977.5 113.0 L979.0 109.7 L980.5 106.0 L982.0 101.6 L983.5 96.4 L985.0 90.8 L986.5 85.0 L988.0 78.1 L989.5 70.3 L991.0 62.3 L992.5 54.5 L994.0 47.7 L995.5 42.3 L997.0 39.1 L998.5 38.5 L1000.0 38.5 L1001.5 38.6 L1003.0 38.8 L1004.5 38.9 L1006.0 39.2 L1007.5 39.4 L1009.0 39.7 L1010.5 40.2 L1012.0 42.7 L1013.5 47.4 L1015.0 53.6 L1016.5 60.6 L1018.0 67.8 L1019.5 74.4 L1021.0 79.8 L1022.5 83.4 L1024.0 86.4 L1025.5 89.3 L1027.0 91.9 L1028.5 94.4 L1030.0 96.8 L1031.5 99.0 L1033.0 101.0 L1034.5 103.0 L1036.0 104.9 L1037.5 106.6 L1039.0 108.3 L1040.5 109.9 L1042.0 111.5 L1043.5 113.0 L1045.0 114.4 L1046.5 115.7 L1048.0 116.9 L1049.5 118.2 L1051.0 119.3 L1052.5 120.5 L1054.0 121.6 L1055.5 122.7 L1057.0 123.7 L1058.5 124.8 L1060.0 126.0 L1061.5 127.1 L1063.0 128.2 L1064.5 129.3 L1066.0 130.3 L1067.5 131.3 L1069.0 132.3 L1070.5 133.2 L1072.0 134.2 L1073.5 135.3 L1075.0 136.3 L1076.5 137.5 L1078.0 138.7 L1079.5 140.1 L1081.0 141.6 L1082.5 143.3 L1084.0 145.5 L1085.5 148.5 L1087.0 151.9 L1088.5 155.7 L1090.0 159.7 L1091.5 164.0 L1093.0 168.2 L1094.5 172.3 L1096.0 176.2 L1097.5 179.8 L1099.0 182.9 L1100.5 185.4 L1102.0 187.2 L1103.5 188.5 L1105.0 189.8 L1106.5 191.0 L1108.0 192.1 L1109.5 193.2 L1111.0 194.2 L1112.5 195.0 L1114.0 195.8 L1115.5 196.6 L1117.0 197.2 L1118.5 197.7 L1120.0 198.2 L1121.5 198.6 L1123.0 198.9 L1124.5 199.3 L1126.0 199.7 L1127.5 200.1 L1129.0 200.4 L1130.5 200.8 L1132.0 201.1 L1133.5 201.4 L1135.0 201.7 L1136.5 201.9 L1138.0 202.1 L1139.5 202.2 L1141.0 202.2 L1142.5 201.6 L1144.0 199.9 L1145.5 197.2 L1147.0 193.7 L1148.5 189.6 L1150.0 185.1 L1151.5 180.4 L1153.0 175.5 L1154.5 170.8 L1156.0 166.3 L1157.5 162.3 L1159.0 158.8 L1160.5 156.2 L1162.0 154.3 L1163.5 152.4 L1165.0 150.6 L1166.5 148.8 L1168.0 147.1 L1169.5 145.4 L1171.0 143.9 L1172.5 142.5 L1174.0 141.3 L1175.5 140.3 L1177.0 139.5 L1178.5 138.9 L1180.0 138.6 L1181.5 138.5 L1183.0 138.7 L1184.5 139.1 L1186.0 139.6 L1187.5 140.3 L1189.0 141.1 L1190.5 142.0 L1192.0 143.0 L1193.5 144.0 L1195.0 145.0 L1196.5 145.9 L1198.0 146.9 L1199.5 147.8 L1201.0 148.6 L1202.5 149.3 L1204.0 150.2 L1205.5 151.2 L1207.0 152.2 L1208.5 153.3 L1210.0 154.4 L1211.5 155.5 L1211.5 275.8 L1210.0 275.3 L1208.5 274.8 L1207.0 274.1 L1205.5 273.5 L1204.0 272.8 L1202.5 272.1 L1201.0 271.4 L1199.5 270.5 L1198.0 269.2 L1196.5 267.5 L1195.0 265.6 L1193.5 263.5 L1192.0 261.3 L1190.5 259.1 L1189.0 257.0 L1187.5 255.0 L1186.0 253.3 L1184.5 252.0 L1183.0 251.0 L1181.5 250.5 L1180.0 250.5 L1178.5 250.8 L1177.0 251.2 L1175.5 251.7 L1174.0 252.4 L1172.5 253.1 L1171.0 254.0 L1169.5 254.9 L1168.0 255.9 L1166.5 256.9 L1165.0 257.9 L1163.5 258.9 L1162.0 259.9 L1160.5 260.8 L1159.0 261.9 L1157.5 263.3 L1156.0 264.9 L1154.5 266.6 L1153.0 268.3 L1151.5 270.0 L1150.0 271.8 L1148.5 273.3 L1147.0 274.8 L1145.5 276.0 L1144.0 276.9 L1142.5 277.5 L1141.0 277.8 L1139.5 277.6 L1138.0 277.3 L1136.5 276.8 L1135.0 276.1 L1133.5 275.3 L1132.0 274.4 L1130.5 273.4 L1129.0 272.4 L1127.5 271.4 L1126.0 270.4 L1124.5 269.4 L1123.0 268.6 L1121.5 267.8 L1120.0 267.1 L1118.5 266.5 L1117.0 265.9 L1115.5 265.4 L1114.0 264.8 L1112.5 264.2 L1111.0 263.6 L1109.5 263.0 L1108.0 262.3 L1106.5 261.5 L1105.0 260.7 L1103.5 259.8 L1102.0 258.8 L1100.5 257.6 L1099.0 256.0 L1097.5 254.1 L1096.0 251.9 L1094.5 249.6 L1093.0 247.1 L1091.5 244.5 L1090.0 241.9 L1088.5 239.4 L1087.0 236.9 L1085.5 234.7 L1084.0 232.6 L1082.5 230.9 L1081.0 229.4 L1079.5 228.0 L1078.0 226.7 L1076.5 225.4 L1075.0 224.2 L1073.5 223.1 L1072.0 221.9 L1070.5 220.8 L1069.0 219.7 L1067.5 218.7 L1066.0 217.6 L1064.5 216.5 L1063.0 215.3 L1061.5 214.1 L1060.0 212.9 L1058.5 211.8 L1057.0 210.6 L1055.5 209.4 L1054.0 208.2 L1052.5 207.0 L1051.0 205.9 L1049.5 204.7 L1048.0 203.5 L1046.5 202.3 L1045.0 201.0 L1043.5 199.8 L1042.0 198.5 L1040.5 197.3 L1039.0 196.1 L1037.5 195.0 L1036.0 193.9 L1034.5 192.7 L1033.0 191.6 L1031.5 190.4 L1030.0 189.1 L1028.5 187.6 L1027.0 186.1 L1025.5 184.4 L1024.0 182.5 L1022.5 180.4 L1021.0 177.6 L1019.5 173.1 L1018.0 167.2 L1016.5 160.7 L1015.0 154.0 L1013.5 147.9 L1012.0 142.9 L1010.5 139.7 L1009.0 138.2 L1007.5 136.9 L1006.0 135.8 L1004.5 134.8 L1003.0 133.9 L1001.5 133.2 L1000.0 132.8 L998.5 132.6 L997.0 133.0 L995.5 135.1 L994.0 138.6 L992.5 143.3 L991.0 148.8 L989.5 154.8 L988.0 160.9 L986.5 166.9 L985.0 172.4 L983.5 177.6 L982.0 182.1 L980.5 185.7 L979.0 188.4 L977.5 190.8 L976.0 192.9 L974.5 194.9 L973.0 196.7 L971.5 198.5 L970.0 200.2 L968.5 201.9 L967.0 203.6 L965.5 205.3 L964.0 206.8 L962.5 208.4 L961.0 209.8 L959.5 211.3 L958.0 212.8 L956.5 214.3 L955.0 215.8 L953.5 217.4 L952.0 219.0 L950.5 220.8 L949.0 222.7 L947.5 224.7 L946.0 226.8 L944.5 229.0 L943.0 231.2 L941.5 233.4 L940.0 235.6 L938.5 237.7 L937.0 239.8 L935.5 241.7 L934.0 243.5 L932.5 245.2 L931.0 247.0 L929.5 248.9 L928.0 250.7 L926.5 252.5 L925.0 254.2 L923.5 255.9 L922.0 257.3 L920.5 258.6 L919.0 259.7 L917.5 260.5 L916.0 261.0 L914.5 261.4 L913.0 261.7 L911.5 262.1 L910.0 262.4 L908.5 262.6 L907.0 262.9 L905.5 263.0 L904.0 263.2 L902.5 263.3 L901.0 263.4 L899.5 263.4 L898.0 263.3 L896.5 263.2 L895.0 263.1 L893.5 262.9 L892.0 262.6 L890.5 262.4 L889.0 262.1 L887.5 261.8 L886.0 261.6 L884.5 260.9 L883.0 259.4 L881.5 257.3 L880.0 254.7 L878.5 251.7 L877.0 248.5 L875.5 245.2 L874.0 242.0 L872.5 239.0 L871.0 236.3 L869.5 233.5 L868.0 230.6 L866.5 227.6 L865.0 224.6 L863.5 221.6 L862.0 218.6 L860.5 215.5 L859.0 212.4 L857.5 209.4 L856.0 206.2 L854.5 202.8 L853.0 199.4 L851.5 196.0 L850.0 192.7 L848.5 189.6 L847.0 186.7 L845.5 184.2 L844.0 181.9 L842.5 179.6 L841.0 177.2 L839.5 175.0 L838.0 172.8 L836.5 170.9 L835.0 169.3 L833.5 168.1 L832.0 167.3 L830.5 167.0 L829.0 166.9 L827.5 166.8 L826.0 166.8 L824.5 166.9 L823.0 166.9 L821.5 167.0 L820.0 167.2 L818.5 167.6 L817.0 168.2 L815.5 169.1 L814.0 171.2 L812.5 174.5 L811.0 178.7 L809.5 183.6 L808.0 188.8 L806.5 194.1 L805.0 199.1 L803.5 203.7 L802.0 207.6 L800.5 210.9 L799.0 213.9 L797.5 216.7 L796.0 219.6 L794.5 222.7 L793.0 226.1 L791.5 230.1 L790.0 235.0 L788.5 241.3 L787.0 248.6 L785.5 256.2 L784.0 263.6 L782.5 270.1 L781.0 275.5 L779.5 280.6 L778.0 285.5 L776.5 290.2 L775.0 294.7 L773.5 299.2 L772.0 303.5 L770.5 307.9 L769.0 312.2 L767.5 316.6 L766.0 321.2 L764.5 326.1 L763.0 331.2 L761.5 336.3 L760.0 341.4 L758.5 346.3 L757.0 350.9 L755.5 355.2 L754.0 359.0 L752.5 362.7 L751.0 366.5 L749.5 370.4 L748.0 374.1 L746.5 377.6 L745.0 380.7 L743.5 383.3 L742.0 385.2 L740.5 386.4 L739.0 387.0 L737.5 387.4 L736.0 387.8 L734.5 388.1 L733.0 388.4 L731.5 388.7 L730.0 389.0 L728.5 389.2 L727.0 389.5 L725.5 389.8 L724.0 390.2 L722.5 390.6 L721.0 391.0 L719.5 391.5 L718.0 391.9 L716.5 392.3 L715.0 392.7 L713.5 393.0 L712.0 393.1 L710.5 393.2 L709.0 393.2 L707.5 393.2 L706.0 393.1 L704.5 393.1 L703.0 393.1 L701.5 393.1 L700.0 393.1 L698.5 393.1 L697.0 393.1 L695.5 393.0 L694.0 393.0 L692.5 393.0 L691.0 393.0 L689.5 393.0 L688.0 392.9 L686.5 392.9 L685.0 392.9 L683.5 392.9 L682.0 392.9 L680.5 392.9 L679.0 392.8 L677.5 392.8 L676.0 392.8 L674.5 392.8 L673.0 392.8 L671.5 392.8 L670.0 392.8 L668.5 392.8 L667.0 392.8 L665.5 392.8 L664.0 392.8 L662.5 392.8 L661.0 392.8 L659.5 392.8 L658.0 392.8 L656.5 392.8 L655.0 392.8 L653.5 392.8 L652.0 392.8 L650.5 392.8 L649.0 392.8 L647.5 392.8 L646.0 392.8 L644.5 392.8 L643.0 392.8 Z" fill="#0b7e31"/>
<path d="M643.0 359.3 L644.5 438.3 L646.0 360.1 L647.5 437.6 L649.0 359.4 L650.5 400.2 L652.0 346.8 L653.5 394.8 L655.0 357.2 L656.5 401.9 L658.0 362.5 L659.5 435.5 L661.0 328.8 L662.5 399.9 L664.0 357.1 L665.5 401.4 L667.0 363.1 L668.5 397.7 L670.0 358.3 L671.5 390.5 L673.0 366.3 L674.5 402.4 L676.0 357.7 L677.5 391.7 L679.0 369.7 L680.5 400.4 L682.0 376.5 L683.5 395.9 L685.0 326.5 L686.5 402.8 L688.0 361.5 L689.5 402.0 L691.0 359.4 L692.5 388.9 L694.0 368.5 L695.5 421.0 L697.0 362.0 L698.5 388.8 L700.0 358.9 L701.5 397.8 L703.0 359.3 L704.5 400.7 L706.0 363.1 L707.5 396.8 L709.0 372.4 L710.5 397.3 L712.0 361.8 L713.5 399.7 L715.0 357.1 L716.5 395.9 L718.0 353.8 L719.5 399.8 L721.0 349.5 L722.5 395.6 L724.0 344.1 L725.5 397.3 L727.0 348.7 L728.5 429.8 L730.0 327.6 L731.5 429.8 L733.0 347.9 L734.5 401.1 L736.0 336.5 L737.5 397.1 L739.0 336.4 L740.5 397.5 L742.0 362.9 L743.5 391.6 L745.0 323.0 L746.5 422.9 L748.0 322.1 L749.5 385.0 L751.0 306.7 L752.5 373.5 L754.0 312.2 L755.5 363.9 L757.0 295.8 L758.5 354.6 L760.0 285.3 L761.5 392.5 L763.0 311.2 L764.5 337.7 L766.0 278.6 L767.5 329.4 L769.0 273.0 L770.5 306.7 L772.0 253.8 L773.5 311.8 L775.0 230.5 L776.5 340.8 L778.0 164.3 L779.5 320.8 L781.0 206.4 L782.5 282.9 L784.0 183.7 L785.5 287.6 L787.0 171.8 L788.5 215.0 L790.0 148.9 L791.5 236.5 L793.0 117.1 L794.5 294.6 L796.0 128.9 L797.5 222.3 L799.0 123.5 L800.5 229.5 L802.0 114.8 L803.5 226.6 L805.0 113.6 L806.5 212.1 L808.0 128.5 L809.5 198.0 L811.0 93.3 L812.5 189.3 L814.0 32.3 L815.5 187.9 L817.0 71.3 L818.5 192.8 L820.0 20.0 L821.5 22.0 L823.0 87.1 L824.5 161.4 L826.0 61.1 L827.5 164.7 L829.0 58.0 L830.5 187.6 L832.0 64.8 L833.5 193.0 L835.0 74.0 L836.5 169.9 L838.0 20.4 L839.5 226.8 L841.0 82.3 L842.5 250.3 L844.0 80.7 L845.5 206.5 L847.0 90.8 L848.5 204.0 L850.0 98.4 L851.5 238.4 L853.0 128.2 L854.5 210.5 L856.0 113.9 L857.5 213.7 L859.0 65.1 L860.5 266.4 L862.0 129.0 L863.5 245.9 L865.0 126.9 L866.5 243.1 L868.0 150.5 L869.5 254.9 L871.0 151.2 L872.5 260.8 L874.0 145.9 L875.5 299.5 L877.0 157.0 L878.5 102.0 L880.0 104.0 L881.5 274.9 L883.0 160.4 L884.5 282.3 L886.0 178.6 L887.5 281.7 L889.0 182.2 L890.5 285.0 L892.0 290.0 L893.5 288.0 L895.0 194.5 L896.5 315.5 L898.0 170.8 L899.5 329.5 L901.0 191.9 L902.5 284.1 L904.0 171.0 L905.5 293.0 L907.0 291.0 L908.5 283.6 L910.0 172.0 L911.5 284.5 L913.0 160.6 L914.5 276.8 L916.0 185.0 L917.5 309.6 L919.0 165.5 L920.5 277.0 L922.0 172.1 L923.5 270.2 L925.0 166.4 L926.5 272.3 L928.0 161.8 L929.5 257.2 L931.0 165.9 L932.5 257.8 L934.0 177.3 L935.5 263.6 L937.0 153.1 L938.5 261.0 L940.0 144.7 L941.5 255.8 L943.0 145.7 L944.5 235.1 L946.0 137.4 L947.5 230.6 L949.0 134.6 L950.5 216.6 L952.0 128.4 L953.5 238.8 L955.0 129.9 L956.5 196.2 L958.0 75.0 L959.5 77.0 L961.0 124.1 L962.5 244.9 L964.0 115.9 L965.5 227.1 L967.0 137.4 L968.5 224.3 L970.0 142.6 L971.5 75.0 L973.0 77.0 L974.5 259.5 L976.0 96.3 L977.5 205.5 L979.0 87.6 L980.5 201.8 L982.0 100.9 L983.5 165.9 L985.0 76.4 L986.5 166.8 L988.0 56.8 L989.5 149.6 L991.0 42.9 L992.5 130.2 L994.0 32.3 L995.5 140.1 L997.0 10.6 L998.5 161.4 L1000.0 9.7 L1001.5 153.4 L1003.0 2.0 L1004.5 4.0 L1006.0 19.5 L1007.5 2.0 L1009.0 4.0 L1010.5 184.5 L1012.0 -37.6 L1013.5 174.7 L1015.0 34.6 L1016.5 176.6 L1018.0 74.9 L1019.5 149.0 L1021.0 52.0 L1022.5 200.3 L1024.0 75.7 L1025.5 212.2 L1027.0 70.8 L1028.5 211.9 L1030.0 24.8 L1031.5 198.5 L1033.0 87.0 L1034.5 215.6 L1036.0 88.8 L1037.5 209.2 L1039.0 64.3 L1040.5 224.8 L1042.0 88.7 L1043.5 219.7 L1045.0 92.6 L1046.5 225.8 L1048.0 129.4 L1049.5 226.8 L1051.0 94.4 L1052.5 215.5 L1054.0 104.8 L1055.5 198.3 L1057.0 109.8 L1058.5 221.1 L1060.0 135.4 L1061.5 234.7 L1063.0 47.0 L1064.5 49.0 L1066.0 138.6 L1067.5 245.1 L1069.0 109.3 L1070.5 246.6 L1072.0 106.6 L1073.5 240.9 L1075.0 120.9 L1076.5 246.7 L1078.0 116.9 L1079.5 244.2 L1081.0 135.4 L1082.5 257.2 L1084.0 137.7 L1085.5 319.0 L1087.0 317.0 L1088.5 265.7 L1090.0 142.9 L1091.5 233.9 L1093.0 153.0 L1094.5 272.5 L1096.0 159.2 L1097.5 312.4 L1099.0 199.3 L1100.5 274.0 L1102.0 164.5 L1103.5 282.1 L1105.0 206.8 L1106.5 268.2 L1108.0 171.4 L1109.5 270.6 L1111.0 176.3 L1112.5 273.4 L1114.0 195.9 L1115.5 287.0 L1117.0 183.9 L1118.5 268.6 L1120.0 191.0 L1121.5 290.2 L1123.0 177.5 L1124.5 287.1 L1126.0 181.6 L1127.5 284.6 L1129.0 138.0 L1130.5 285.4 L1132.0 196.3 L1133.5 326.9 L1135.0 181.0 L1136.5 293.4 L1138.0 209.7 L1139.5 272.8 L1141.0 143.3 L1142.5 299.9 L1144.0 179.4 L1145.5 298.0 L1147.0 170.3 L1148.5 288.7 L1150.0 159.4 L1151.5 253.8 L1153.0 331.0 L1154.5 329.0 L1156.0 136.0 L1157.5 255.4 L1159.0 113.4 L1160.5 117.0 L1162.0 115.0 L1163.5 291.4 L1165.0 132.2 L1166.5 280.8 L1168.0 135.8 L1169.5 250.5 L1171.0 97.0 L1172.5 99.0 L1174.0 121.6 L1175.5 257.9 L1177.0 109.5 L1178.5 279.7 L1180.0 72.0 L1181.5 74.0 L1183.0 71.0 L1184.5 281.4 L1186.0 118.1 L1187.5 270.5 L1189.0 117.2 L1190.5 281.9 L1192.0 110.0 L1193.5 264.7 L1195.0 108.4 L1196.5 297.3 L1198.0 143.8 L1199.5 274.6 L1201.0 164.9 L1202.5 282.6 L1204.0 185.1 L1205.5 219.5 L1207.0 140.5 L1208.5 333.1 L1210.0 137.2 L1211.5 227.7" stroke="#0b7e31" stroke-width="3.1"/>
<path d="M643.0 388.8 L644.0 392.6 L645.0 390.4 L646.0 389.2 L647.0 390.5 L648.0 389.3 L649.0 391.8 L650.0 388.1 L651.0 388.4 L652.0 391.2 L653.0 388.0 L654.0 391.2 L655.0 387.8 L656.0 390.4 L657.0 391.2 L658.0 391.5 L659.0 391.8 L660.0 389.6 L661.0 388.9 L662.0 391.1 L663.0 389.0 L664.0 390.0 L665.0 387.2 L666.0 390.5 L667.0 388.8 L668.0 389.2 L669.0 390.1 L670.0 388.3 L671.0 390.3 L672.0 388.9 L673.0 389.0 L674.0 389.0 L675.0 386.8 L676.0 385.0 L677.0 386.1 L678.0 385.5 L679.0 387.8 L680.0 384.4 L681.0 383.9 L682.0 386.4 L683.0 385.4 L684.0 383.4 L685.0 385.0 L686.0 383.6 L687.0 380.3 L688.0 380.9 L689.0 382.7 L690.0 381.2 L691.0 380.6 L692.0 381.0 L693.0 379.7 L694.0 377.6 L695.0 377.6 L696.0 376.9 L697.0 375.8 L698.0 375.5 L699.0 376.8 L700.0 377.1 L701.0 373.7 L702.0 375.6 L703.0 375.3 L704.0 373.5 L705.0 372.1 L706.0 370.8 L707.0 370.1 L708.0 370.1 L709.0 368.3 L710.0 368.2 L711.0 370.7 L712.0 368.7 L713.0 365.5 L714.0 365.8 L715.0 367.1 L716.0 367.2 L717.0 364.1 L718.0 364.8 L719.0 364.4 L720.0 360.1 L721.0 362.8 L722.0 360.4 L723.0 358.7 L724.0 359.1 L725.0 355.9 L726.0 355.4 L727.0 356.0 L728.0 355.2 L729.0 352.6 L730.0 353.9 L731.0 352.8 L732.0 349.9 L733.0 349.8 L734.0 350.4 L735.0 346.1 L736.0 346.4 L737.0 343.7 L738.0 345.1 L739.0 341.8 L740.0 342.1 L741.0 337.7 L742.0 336.6 L743.0 335.0 L744.0 334.6 L745.0 332.5 L746.0 331.8 L747.0 326.9 L748.0 328.7 L749.0 323.9 L750.0 322.9 L751.0 320.5 L752.0 318.0 L753.0 317.6 L754.0 313.3 L755.0 309.2 L756.0 305.7 L757.0 301.1 L758.0 300.7 L759.0 295.9 L760.0 290.2 L761.0 286.5 L762.0 284.9 L763.0 280.6 L764.0 275.4 L765.0 274.6 L766.0 271.2 L767.0 270.0 L768.0 266.9 L769.0 261.1 L770.0 261.4 L771.0 254.7 L772.0 254.0 L773.0 247.8 L774.0 246.8 L775.0 241.3 L776.0 236.2 L777.0 234.3 L778.0 230.4 L779.0 223.9 L780.0 218.2 L781.0 213.0 L782.0 205.4 L783.0 199.7 L784.0 194.5 L785.0 187.3 L786.0 180.6 L787.0 171.1 L788.0 164.4 L789.0 156.3 L790.0 146.8 L791.0 143.4 L792.0 134.5 L793.0 133.7 L794.0 128.2 L795.0 124.2 L796.0 115.7 L797.0 110.5 L798.0 104.9 L799.0 101.0 L800.0 97.2 L801.0 90.4 L802.0 86.7 L803.0 83.5 L804.0 80.4 L805.0 75.6 L806.0 71.7 L807.0 67.5 L808.0 61.7 L809.0 59.4 L810.0 54.6 L811.0 49.4 L812.0 48.6 L813.0 43.2 L814.0 44.2 L815.0 43.0 L816.0 40.6 L817.0 41.7 L818.0 42.0 L819.0 38.6 L820.0 37.0 L821.0 34.7 L822.0 34.5 L823.0 35.7 L824.0 36.1 L825.0 34.1 L826.0 30.8 L827.0 33.7 L828.0 31.1 L829.0 30.8 L830.0 30.7 L831.0 32.4 L832.0 30.2 L833.0 29.6 L834.0 30.8 L835.0 32.5 L836.0 30.7 L837.0 34.8 L838.0 34.4 L839.0 33.2 L840.0 35.9 L841.0 39.2 L842.0 38.8 L843.0 43.4 L844.0 45.4 L845.0 48.8 L846.0 48.8 L847.0 47.8 L848.0 51.0 L849.0 54.0 L850.0 54.4 L851.0 60.5 L852.0 60.3 L853.0 62.9 L854.0 68.2 L855.0 71.9 L856.0 75.2 L857.0 79.1 L858.0 81.3 L859.0 83.8 L860.0 87.4 L861.0 91.2 L862.0 94.2 L863.0 97.0 L864.0 98.8 L865.0 104.7 L866.0 104.1 L867.0 107.9 L868.0 110.7 L869.0 114.0 L870.0 117.2 L871.0 119.3 L872.0 122.8 L873.0 125.4 L874.0 124.8 L875.0 129.2 L876.0 129.7 L877.0 134.6 L878.0 137.6 L879.0 140.6 L880.0 140.5 L881.0 143.6 L882.0 146.7 L883.0 146.9 L884.0 150.4 L885.0 153.1 L886.0 152.5 L887.0 155.0 L888.0 156.9 L889.0 159.8 L890.0 160.1 L891.0 160.1 L892.0 162.9 L893.0 164.5 L894.0 163.8 L895.0 166.6 L896.0 166.6 L897.0 171.5 L898.0 170.5 L899.0 173.6 L900.0 172.1 L901.0 175.2 L902.0 177.2 L903.0 177.7 L904.0 176.7 L905.0 175.1 L906.0 177.2 L907.0 177.8 L908.0 179.0 L909.0 178.0 L910.0 176.5 L911.0 174.3 L912.0 176.3 L913.0 175.3 L914.0 175.4 L915.0 174.2 L916.0 173.3 L917.0 174.1 L918.0 176.2 L919.0 171.8 L920.0 171.5 L921.0 174.1 L922.0 173.6 L923.0 171.4 L924.0 168.7 L925.0 167.5 L926.0 167.4 L927.0 168.1 L928.0 167.9 L929.0 164.4 L930.0 166.1 L931.0 165.2 L932.0 164.7 L933.0 161.4 L934.0 159.3 L935.0 159.2 L936.0 155.9 L937.0 157.6 L938.0 156.1 L939.0 154.8 L940.0 152.8 L941.0 150.9 L942.0 147.6 L943.0 148.7 L944.0 145.1 L945.0 143.1 L946.0 143.4 L947.0 141.3 L948.0 136.1 L949.0 136.2 L950.0 134.2 L951.0 131.7 L952.0 131.9 L953.0 128.7 L954.0 125.6 L955.0 124.3 L956.0 120.9 L957.0 121.2 L958.0 117.0 L959.0 114.8 L960.0 113.0 L961.0 111.1 L962.0 112.5 L963.0 108.1 L964.0 108.5 L965.0 107.8 L966.0 107.2 L967.0 103.4 L968.0 102.6 L969.0 103.9 L970.0 103.3 L971.0 101.6 L972.0 102.3 L973.0 100.2 L974.0 101.2 L975.0 101.2 L976.0 97.4 L977.0 100.1 L978.0 96.4 L979.0 99.8 L980.0 97.4 L981.0 95.9 L982.0 97.1 L983.0 95.1 L984.0 95.5 L985.0 90.4 L986.0 91.0 L987.0 87.9 L988.0 88.4 L989.0 83.0 L990.0 82.9 L991.0 82.3 L992.0 77.8 L993.0 77.3 L994.0 76.8 L995.0 71.4 L996.0 71.4 L997.0 70.8 L998.0 69.3 L999.0 71.3 L1000.0 68.5 L1001.0 72.1 L1002.0 69.8 L1003.0 71.8 L1004.0 72.7 L1005.0 69.2 L1006.0 70.6 L1007.0 71.6 L1008.0 70.0 L1009.0 72.6 L1010.0 72.4 L1011.0 73.0 L1012.0 75.3 L1013.0 75.9 L1014.0 76.5 L1015.0 79.1 L1016.0 80.5 L1017.0 79.9 L1018.0 83.5 L1019.0 85.0 L1020.0 87.5 L1021.0 88.7 L1022.0 86.2 L1023.0 89.2 L1024.0 88.8 L1025.0 91.5 L1026.0 95.1 L1027.0 94.2 L1028.0 96.7 L1029.0 95.5 L1030.0 99.5 L1031.0 98.7 L1032.0 99.4 L1033.0 101.2 L1034.0 105.3 L1035.0 106.2 L1036.0 107.8 L1037.0 108.7 L1038.0 111.5 L1039.0 109.5 L1040.0 112.4 L1041.0 112.5 L1042.0 113.8 L1043.0 115.0 L1044.0 119.9 L1045.0 118.0 L1046.0 121.2 L1047.0 123.8 L1048.0 124.6 L1049.0 127.4 L1050.0 129.0 L1051.0 128.9 L1052.0 130.1 L1053.0 130.8 L1054.0 134.0 L1055.0 136.5 L1056.0 139.4 L1057.0 138.2 L1058.0 141.3 L1059.0 144.7 L1060.0 144.8 L1061.0 144.9 L1062.0 145.4 L1063.0 149.9 L1064.0 149.9 L1065.0 152.4 L1066.0 152.3 L1067.0 155.7 L1068.0 156.4 L1069.0 156.9 L1070.0 158.4 L1071.0 162.0 L1072.0 161.9 L1073.0 162.0 L1074.0 165.0 L1075.0 164.5 L1076.0 166.8 L1077.0 168.1 L1078.0 170.3 L1079.0 170.4 L1080.0 171.3 L1081.0 172.1 L1082.0 173.3 L1083.0 175.1 L1084.0 178.2 L1085.0 176.9 L1086.0 179.2 L1087.0 182.3 L1088.0 186.8 L1089.0 187.5 L1090.0 188.2 L1091.0 190.2 L1092.0 194.9 L1093.0 195.9 L1094.0 197.0 L1095.0 199.5 L1096.0 202.2 L1097.0 206.7 L1098.0 210.3 L1099.0 210.9 L1100.0 215.7 L1101.0 214.9 L1102.0 217.3 L1103.0 218.3 L1104.0 220.9 L1105.0 222.6 L1106.0 225.3 L1107.0 226.3 L1108.0 227.4 L1109.0 230.2 L1110.0 231.1 L1111.0 235.5 L1112.0 235.1 L1113.0 236.9 L1114.0 239.6 L1115.0 238.6 L1116.0 241.4 L1117.0 243.6 L1118.0 244.7 L1119.0 244.4 L1120.0 245.0 L1121.0 250.5 L1122.0 248.1 L1123.0 251.4 L1124.0 250.8 L1125.0 255.6 L1126.0 255.6 L1127.0 258.9 L1128.0 258.1 L1129.0 259.4 L1130.0 262.1 L1131.0 264.1 L1132.0 263.6 L1133.0 265.7 L1134.0 266.7 L1135.0 267.6 L1136.0 268.5 L1137.0 270.7 L1138.0 272.5 L1139.0 272.5 L1140.0 273.6 L1141.0 275.1 L1142.0 275.1 L1143.0 275.8 L1144.0 278.6 L1145.0 277.6 L1146.0 281.2 L1147.0 282.0 L1148.0 284.7 L1149.0 281.8 L1150.0 286.6 L1151.0 286.5 L1152.0 285.8 L1153.0 288.5 L1154.0 289.1 L1155.0 290.6 L1156.0 290.2 L1157.0 294.1 L1158.0 291.9 L1159.0 293.2 L1160.0 294.4 L1161.0 295.2 L1162.0 298.7 L1163.0 296.9 L1164.0 297.4 L1165.0 302.3 L1166.0 300.9 L1167.0 301.2 L1168.0 301.3 L1169.0 305.4 L1170.0 305.8 L1171.0 303.8 L1172.0 305.1 L1173.0 305.1 L1174.0 307.1 L1175.0 307.6 L1176.0 310.0 L1177.0 311.5 L1178.0 311.2 L1179.0 311.0 L1180.0 312.4 L1181.0 315.2 L1182.0 315.7 L1183.0 316.6 L1184.0 315.0 L1185.0 317.8 L1186.0 316.4 L1187.0 318.8 L1188.0 318.7 L1189.0 321.3 L1190.0 318.2 L1191.0 320.6 L1192.0 321.0 L1193.0 323.5 L1194.0 324.2 L1195.0 323.8 L1196.0 326.6 L1197.0 327.4 L1198.0 327.5 L1199.0 328.1 L1200.0 327.9 L1201.0 330.3 L1202.0 327.4 L1203.0 329.3 L1204.0 328.1 L1205.0 330.4 L1206.0 331.9 L1207.0 332.6 L1208.0 334.1 L1209.0 331.5 L1210.0 335.0 L1211.0 333.4 L1212.0 333.6 L1212.0 344.3 L1211.0 343.9 L1210.0 343.6 L1209.0 340.8 L1208.0 343.0 L1207.0 342.8 L1206.0 340.6 L1205.0 342.7 L1204.0 340.3 L1203.0 340.2 L1202.0 338.7 L1201.0 338.4 L1200.0 340.1 L1199.0 339.1 L1198.0 335.7 L1197.0 334.6 L1196.0 337.6 L1195.0 334.1 L1194.0 335.4 L1193.0 335.2 L1192.0 331.1 L1191.0 333.8 L1190.0 330.9 L1189.0 329.0 L1188.0 329.0 L1187.0 330.3 L1186.0 328.0 L1185.0 329.1 L1184.0 325.1 L1183.0 326.8 L1182.0 327.2 L1181.0 322.7 L1180.0 322.8 L1179.0 323.6 L1178.0 320.6 L1177.0 321.6 L1176.0 321.7 L1175.0 321.0 L1174.0 321.4 L1173.0 317.9 L1172.0 318.8 L1171.0 318.4 L1170.0 317.0 L1169.0 313.4 L1168.0 316.6 L1167.0 314.7 L1166.0 313.9 L1165.0 310.3 L1164.0 313.2 L1163.0 310.1 L1162.0 309.0 L1161.0 307.5 L1160.0 308.0 L1159.0 309.2 L1158.0 308.4 L1157.0 307.2 L1156.0 304.1 L1155.0 303.8 L1154.0 303.6 L1153.0 303.3 L1152.0 299.5 L1151.0 297.6 L1150.0 299.2 L1149.0 297.8 L1148.0 295.1 L1147.0 294.9 L1146.0 294.3 L1145.0 291.3 L1144.0 294.2 L1143.0 292.3 L1142.0 291.4 L1141.0 289.2 L1140.0 287.7 L1139.0 287.8 L1138.0 286.3 L1137.0 285.0 L1136.0 283.8 L1135.0 282.8 L1134.0 281.3 L1133.0 278.8 L1132.0 278.4 L1131.0 279.2 L1130.0 275.9 L1129.0 276.7 L1128.0 271.7 L1127.0 272.2 L1126.0 272.8 L1125.0 271.8 L1124.0 268.5 L1123.0 269.3 L1122.0 267.5 L1121.0 264.9 L1120.0 264.8 L1119.0 262.1 L1118.0 261.2 L1117.0 259.6 L1116.0 257.9 L1115.0 256.6 L1114.0 255.4 L1113.0 255.2 L1112.0 253.0 L1111.0 249.0 L1110.0 248.4 L1109.0 249.3 L1108.0 246.5 L1107.0 246.8 L1106.0 241.9 L1105.0 241.9 L1104.0 240.4 L1103.0 239.6 L1102.0 237.9 L1101.0 236.4 L1100.0 235.8 L1099.0 232.3 L1098.0 230.2 L1097.0 230.1 L1096.0 227.5 L1095.0 224.5 L1094.0 222.0 L1093.0 220.3 L1092.0 216.5 L1091.0 216.4 L1090.0 214.8 L1089.0 212.3 L1088.0 207.7 L1087.0 206.1 L1086.0 203.2 L1085.0 202.7 L1084.0 197.7 L1083.0 195.2 L1082.0 193.1 L1081.0 191.6 L1080.0 190.3 L1079.0 186.4 L1078.0 187.9 L1077.0 185.0 L1076.0 180.9 L1075.0 181.3 L1074.0 181.7 L1073.0 177.5 L1072.0 179.2 L1071.0 176.2 L1070.0 175.1 L1069.0 173.6 L1068.0 170.7 L1067.0 171.1 L1066.0 171.1 L1065.0 170.4 L1064.0 165.4 L1063.0 164.4 L1062.0 165.7 L1061.0 162.6 L1060.0 161.0 L1059.0 158.7 L1058.0 160.2 L1057.0 158.1 L1056.0 153.9 L1055.0 152.2 L1054.0 151.0 L1053.0 151.5 L1052.0 150.4 L1051.0 146.9 L1050.0 145.2 L1049.0 143.7 L1048.0 142.1 L1047.0 140.1 L1046.0 139.4 L1045.0 139.1 L1044.0 133.8 L1043.0 136.1 L1042.0 132.5 L1041.0 129.4 L1040.0 131.6 L1039.0 129.9 L1038.0 127.5 L1037.0 123.4 L1036.0 122.8 L1035.0 123.8 L1034.0 121.9 L1033.0 120.9 L1032.0 118.6 L1031.0 116.0 L1030.0 113.0 L1029.0 113.2 L1028.0 112.1 L1027.0 111.9 L1026.0 107.5 L1025.0 108.9 L1024.0 106.5 L1023.0 104.4 L1022.0 102.1 L1021.0 103.4 L1020.0 100.3 L1019.0 101.9 L1018.0 97.9 L1017.0 97.6 L1016.0 97.5 L1015.0 96.5 L1014.0 93.5 L1013.0 92.2 L1012.0 90.1 L1011.0 87.7 L1010.0 88.2 L1009.0 86.7 L1008.0 82.9 L1007.0 82.9 L1006.0 83.8 L1005.0 80.7 L1004.0 81.7 L1003.0 80.8 L1002.0 80.4 L1001.0 82.4 L1000.0 82.1 L999.0 85.4 L998.0 86.7 L997.0 89.3 L996.0 88.6 L995.0 92.1 L994.0 96.7 L993.0 97.9 L992.0 99.3 L991.0 101.7 L990.0 103.6 L989.0 102.9 L988.0 104.2 L987.0 105.6 L986.0 106.5 L985.0 105.8 L984.0 107.3 L983.0 107.5 L982.0 105.5 L981.0 109.1 L980.0 109.6 L979.0 109.0 L978.0 110.5 L977.0 111.2 L976.0 111.6 L975.0 111.0 L974.0 114.2 L973.0 112.8 L972.0 114.5 L971.0 116.9 L970.0 115.3 L969.0 117.7 L968.0 117.0 L967.0 118.8 L966.0 121.3 L965.0 124.0 L964.0 127.2 L963.0 127.7 L962.0 131.7 L961.0 133.7 L960.0 133.5 L959.0 138.4 L958.0 140.4 L957.0 144.4 L956.0 143.5 L955.0 145.3 L954.0 146.8 L953.0 147.9 L952.0 152.9 L951.0 151.7 L950.0 153.2 L949.0 154.8 L948.0 157.3 L947.0 159.1 L946.0 158.3 L945.0 160.8 L944.0 163.2 L943.0 163.0 L942.0 165.3 L941.0 166.4 L940.0 168.8 L939.0 169.3 L938.0 172.4 L937.0 170.3 L936.0 173.6 L935.0 172.0 L934.0 175.5 L933.0 173.6 L932.0 175.0 L931.0 176.9 L930.0 175.8 L929.0 179.7 L928.0 180.9 L927.0 180.6 L926.0 182.5 L925.0 183.4 L924.0 182.6 L923.0 183.1 L922.0 183.8 L921.0 181.7 L920.0 183.4 L919.0 184.5 L918.0 185.3 L917.0 185.5 L916.0 184.9 L915.0 185.5 L914.0 187.5 L913.0 184.6 L912.0 184.8 L911.0 184.5 L910.0 185.5 L909.0 184.8 L908.0 186.3 L907.0 188.1 L906.0 188.1 L905.0 185.2 L904.0 187.3 L903.0 184.8 L902.0 186.0 L901.0 187.2 L900.0 185.9 L899.0 186.4 L898.0 184.9 L897.0 181.9 L896.0 181.7 L895.0 180.9 L894.0 179.4 L893.0 179.8 L892.0 177.0 L891.0 175.5 L890.0 174.4 L889.0 176.9 L888.0 174.6 L887.0 172.1 L886.0 168.8 L885.0 170.2 L884.0 170.7 L883.0 166.1 L882.0 164.6 L881.0 166.3 L880.0 163.7 L879.0 161.5 L878.0 160.8 L877.0 158.1 L876.0 155.3 L875.0 152.6 L874.0 152.2 L873.0 148.5 L872.0 148.2 L871.0 144.8 L870.0 141.0 L869.0 140.7 L868.0 138.2 L867.0 135.0 L866.0 133.7 L865.0 129.7 L864.0 127.1 L863.0 126.8 L862.0 124.6 L861.0 118.9 L860.0 116.3 L859.0 115.3 L858.0 112.5 L857.0 109.4 L856.0 108.0 L855.0 106.2 L854.0 101.8 L853.0 100.2 L852.0 96.7 L851.0 92.5 L850.0 89.5 L849.0 85.4 L848.0 82.7 L847.0 77.5 L846.0 71.3 L845.0 69.5 L844.0 67.9 L843.0 66.3 L842.0 62.5 L841.0 62.6 L840.0 58.9 L839.0 57.2 L838.0 53.4 L837.0 50.8 L836.0 48.5 L835.0 46.8 L834.0 46.6 L833.0 42.5 L832.0 40.5 L831.0 40.3 L830.0 41.0 L829.0 44.2 L828.0 41.7 L827.0 43.3 L826.0 45.9 L825.0 47.1 L824.0 47.7 L823.0 51.0 L822.0 52.9 L821.0 55.2 L820.0 55.4 L819.0 60.0 L818.0 60.6 L817.0 64.5 L816.0 68.7 L815.0 75.2 L814.0 78.2 L813.0 82.9 L812.0 91.4 L811.0 94.2 L810.0 97.3 L809.0 102.3 L808.0 109.4 L807.0 111.3 L806.0 116.9 L805.0 121.5 L804.0 125.1 L803.0 131.6 L802.0 138.2 L801.0 142.6 L800.0 150.2 L799.0 155.7 L798.0 162.5 L797.0 165.2 L796.0 172.6 L795.0 175.7 L794.0 184.8 L793.0 190.3 L792.0 197.5 L791.0 206.4 L790.0 215.7 L789.0 221.9 L788.0 224.5 L787.0 231.8 L786.0 233.0 L785.0 238.3 L784.0 240.3 L783.0 244.4 L782.0 250.2 L781.0 254.4 L780.0 256.7 L779.0 259.0 L778.0 261.0 L777.0 263.9 L776.0 269.6 L775.0 272.0 L774.0 272.8 L773.0 276.6 L772.0 278.2 L771.0 280.3 L770.0 286.4 L769.0 285.4 L768.0 290.0 L767.0 294.2 L766.0 295.2 L765.0 300.6 L764.0 304.6 L763.0 308.3 L762.0 310.5 L761.0 312.6 L760.0 316.8 L759.0 318.7 L758.0 321.0 L757.0 324.5 L756.0 325.6 L755.0 329.7 L754.0 329.4 L753.0 332.3 L752.0 331.5 L751.0 334.7 L750.0 339.1 L749.0 336.5 L748.0 339.0 L747.0 342.4 L746.0 341.6 L745.0 344.1 L744.0 343.5 L743.0 346.6 L742.0 346.6 L741.0 347.1 L740.0 350.8 L739.0 349.5 L738.0 352.6 L737.0 352.6 L736.0 356.6 L735.0 354.6 L734.0 356.1 L733.0 360.0 L732.0 358.7 L731.0 358.2 L730.0 361.2 L729.0 360.8 L728.0 365.1 L727.0 365.6 L726.0 365.6 L725.0 364.3 L724.0 366.6 L723.0 368.4 L722.0 370.0 L721.0 367.3 L720.0 370.0 L719.0 371.2 L718.0 373.4 L717.0 373.8 L716.0 370.6 L715.0 374.1 L714.0 372.8 L713.0 373.7 L712.0 373.1 L711.0 374.5 L710.0 376.0 L709.0 379.1 L708.0 377.8 L707.0 376.9 L706.0 380.2 L705.0 381.3 L704.0 381.8 L703.0 379.1 L702.0 382.9 L701.0 379.5 L700.0 382.5 L699.0 384.3 L698.0 382.8 L697.0 381.4 L696.0 382.5 L695.0 384.1 L694.0 386.0 L693.0 383.4 L692.0 385.0 L691.0 385.1 L690.0 385.8 L689.0 385.5 L688.0 386.6 L687.0 388.3 L686.0 390.3 L685.0 390.9 L684.0 388.0 L683.0 388.9 L682.0 390.8 L681.0 392.8 L680.0 393.7 L679.0 393.0 L678.0 391.0 L677.0 390.7 L676.0 392.4 L675.0 394.9 L674.0 394.6 L673.0 392.2 L672.0 392.7 L671.0 394.8 L670.0 394.6 L669.0 394.1 L668.0 394.5 L667.0 393.9 L666.0 393.3 L665.0 393.8 L664.0 397.0 L663.0 395.0 L662.0 396.7 L661.0 394.4 L660.0 395.0 L659.0 395.1 L658.0 397.5 L657.0 393.9 L656.0 394.6 L655.0 397.3 L654.0 397.2 L653.0 394.4 L652.0 396.6 L651.0 397.4 L650.0 396.4 L649.0 397.2 L648.0 394.4 L647.0 396.8 L646.0 396.5 L645.0 396.8 L644.0 396.9 L643.0 395.0 Z" fill="#3b3ba3" stroke="#3b3ba3" stroke-width="1.2"/>
</g>
<g font-size="45.5" font-weight="bold" fill="#000">
<text transform="translate(65 57.9) scale(0.935 1)">A</text>
<text transform="translate(661.5 57.9) scale(0.935 1)">B</text>
<text transform="translate(64.8 452.9) scale(0.935 1)">C</text>
<text transform="translate(661.2 452.9) scale(0.935 1)">D</text>
</g>
<g font-size="29.3" fill="#1a1a1a">
<text x="72" y="832.3">1.6</text>
<text x="225.3" y="832.3">1.8</text>
<text x="373.3" y="832.3">2.0</text>
<text x="523.7" y="832.3">2.2</text>
<text x="664.5" y="832.3">1.6</text>
<text x="818.3" y="832.3">1.8</text>
<text x="966.6" y="832.3">2.0</text>
<text x="1116.6" y="832.3">2.2</text>
<text x="258" y="871.8">Energy (eV)</text>
<text x="851" y="871.8">Energy (eV)</text>
<text x="398" y="709.3">g = 210 meV</text>
<text x="998.8" y="709.3">g = 160 meV</text>
</g>
<g font-size="29.05">
<text transform="translate(25.1 378.6) rotate(-90)" fill="#323a98">Normalized scattering (a.u.)</text>
<text transform="translate(25.1 780.3) rotate(-90)" fill="#323a98">Normalized scattering (a.u.)</text>
<text transform="translate(1257.6 333.2) rotate(-90)" fill="#0b7e31">Normalized PL (a.u.)</text>
<text transform="translate(1257.6 734.8) rotate(-90)" fill="#0b7e31">Normalized PL (a.u.)</text>
</g>
</svg>
</body></html>
